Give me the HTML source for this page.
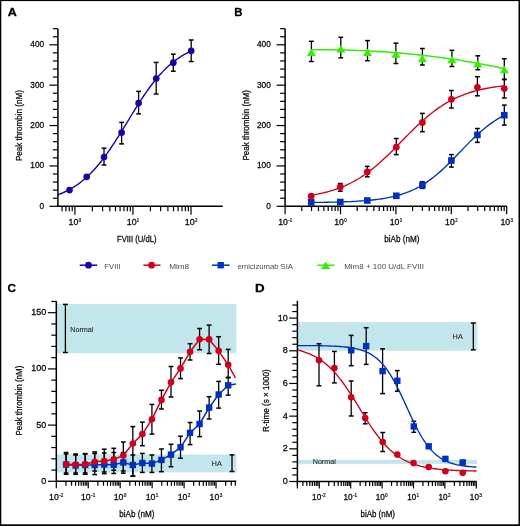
<!DOCTYPE html>
<html><head><meta charset="utf-8"><style>
html,body{margin:0;padding:0;background:#fff;}
svg{display:block;font-family:"Liberation Sans",sans-serif;will-change:transform;}
</style></head><body>
<svg width="520" height="526" viewBox="0 0 520 526">
<rect x="0" y="0" width="520" height="526" fill="#fff"/>
<line x1="104" y1="148.2" x2="104" y2="165" stroke="#000" stroke-width="1.3" stroke-linecap="butt"/>
<line x1="101.6" y1="148.2" x2="106.4" y2="148.2" stroke="#000" stroke-width="1.5" stroke-linecap="butt"/>
<line x1="101.6" y1="165" x2="106.4" y2="165" stroke="#000" stroke-width="1.5" stroke-linecap="butt"/>
<line x1="121.6" y1="122.4" x2="121.6" y2="143.9" stroke="#000" stroke-width="1.3" stroke-linecap="butt"/>
<line x1="119.2" y1="122.4" x2="124" y2="122.4" stroke="#000" stroke-width="1.5" stroke-linecap="butt"/>
<line x1="119.2" y1="143.9" x2="124" y2="143.9" stroke="#000" stroke-width="1.5" stroke-linecap="butt"/>
<line x1="138.6" y1="91.4" x2="138.6" y2="113.9" stroke="#000" stroke-width="1.3" stroke-linecap="butt"/>
<line x1="136.2" y1="91.4" x2="141" y2="91.4" stroke="#000" stroke-width="1.5" stroke-linecap="butt"/>
<line x1="136.2" y1="113.9" x2="141" y2="113.9" stroke="#000" stroke-width="1.5" stroke-linecap="butt"/>
<line x1="156.2" y1="62.4" x2="156.2" y2="94" stroke="#000" stroke-width="1.3" stroke-linecap="butt"/>
<line x1="153.8" y1="62.4" x2="158.6" y2="62.4" stroke="#000" stroke-width="1.5" stroke-linecap="butt"/>
<line x1="153.8" y1="94" x2="158.6" y2="94" stroke="#000" stroke-width="1.5" stroke-linecap="butt"/>
<line x1="173.3" y1="54.2" x2="173.3" y2="71.2" stroke="#000" stroke-width="1.3" stroke-linecap="butt"/>
<line x1="170.9" y1="54.2" x2="175.7" y2="54.2" stroke="#000" stroke-width="1.5" stroke-linecap="butt"/>
<line x1="170.9" y1="71.2" x2="175.7" y2="71.2" stroke="#000" stroke-width="1.5" stroke-linecap="butt"/>
<line x1="191.2" y1="40" x2="191.2" y2="61.5" stroke="#000" stroke-width="1.3" stroke-linecap="butt"/>
<line x1="188.8" y1="40" x2="193.6" y2="40" stroke="#000" stroke-width="1.5" stroke-linecap="butt"/>
<line x1="188.8" y1="61.5" x2="193.6" y2="61.5" stroke="#000" stroke-width="1.5" stroke-linecap="butt"/>
<path d="M57.9 194.81 L59.59 194.16 L61.27 193.48 L62.96 192.76 L64.65 191.99 L66.34 191.18 L68.02 190.33 L69.71 189.42 L71.4 188.47 L73.09 187.46 L74.77 186.39 L76.46 185.27 L78.15 184.1 L79.84 182.86 L81.52 181.56 L83.21 180.19 L84.9 178.76 L86.58 177.26 L88.27 175.69 L89.96 174.05 L91.65 172.35 L93.33 170.57 L95.02 168.72 L96.71 166.8 L98.4 164.81 L100.08 162.74 L101.77 160.61 L103.46 158.41 L105.15 156.15 L106.83 153.82 L108.52 151.43 L110.21 148.98 L111.89 146.48 L113.58 143.93 L115.27 141.33 L116.96 138.7 L118.64 136.02 L120.33 133.32 L122.02 130.58 L123.71 127.83 L125.39 125.07 L127.08 122.3 L128.77 119.53 L130.46 116.76 L132.14 114 L133.83 111.26 L135.52 108.55 L137.21 105.86 L138.89 103.21 L140.58 100.59 L142.27 98.02 L143.95 95.5 L145.64 93.03 L147.33 90.62 L149.02 88.27 L150.7 85.98 L152.39 83.76 L154.08 81.6 L155.77 79.51 L157.45 77.49 L159.14 75.54 L160.83 73.66 L162.52 71.86 L164.2 70.12 L165.89 68.46 L167.58 66.86 L169.26 65.34 L170.95 63.88 L172.64 62.49 L174.33 61.16 L176.01 59.9 L177.7 58.7 L179.39 57.56 L181.08 56.47 L182.76 55.44 L184.45 54.47 L186.14 53.54 L187.83 52.67 L189.51 51.84 L191.2 51.06" fill="none" stroke="#1e00a8" stroke-width="1.4" stroke-linejoin="round"/>
<circle cx="69.5" cy="190.1" r="3.35" fill="#1e00a8"/>
<circle cx="86.7" cy="176.8" r="3.35" fill="#1e00a8"/>
<circle cx="104" cy="157" r="3.35" fill="#1e00a8"/>
<circle cx="121.6" cy="132.6" r="3.35" fill="#1e00a8"/>
<circle cx="138.6" cy="103" r="3.35" fill="#1e00a8"/>
<circle cx="156.2" cy="78.5" r="3.35" fill="#1e00a8"/>
<circle cx="173.3" cy="62.7" r="3.35" fill="#1e00a8"/>
<circle cx="191.2" cy="50.8" r="3.35" fill="#1e00a8"/>
<line x1="57.9" y1="28.65" x2="57.9" y2="206.95" stroke="#000" stroke-width="1.5" stroke-linecap="butt"/>
<line x1="57.25" y1="206.3" x2="222.7" y2="206.3" stroke="#000" stroke-width="1.5" stroke-linecap="butt"/>
<line x1="49.4" y1="206.3" x2="57.9" y2="206.3" stroke="#000" stroke-width="1.2" stroke-linecap="butt"/>
<line x1="52.9" y1="198.23" x2="57.9" y2="198.23" stroke="#000" stroke-width="1.2" stroke-linecap="butt"/>
<line x1="52.9" y1="190.15" x2="57.9" y2="190.15" stroke="#000" stroke-width="1.2" stroke-linecap="butt"/>
<line x1="52.9" y1="182.08" x2="57.9" y2="182.08" stroke="#000" stroke-width="1.2" stroke-linecap="butt"/>
<line x1="52.9" y1="174" x2="57.9" y2="174" stroke="#000" stroke-width="1.2" stroke-linecap="butt"/>
<line x1="49.4" y1="165.93" x2="57.9" y2="165.93" stroke="#000" stroke-width="1.2" stroke-linecap="butt"/>
<line x1="52.9" y1="157.85" x2="57.9" y2="157.85" stroke="#000" stroke-width="1.2" stroke-linecap="butt"/>
<line x1="52.9" y1="149.78" x2="57.9" y2="149.78" stroke="#000" stroke-width="1.2" stroke-linecap="butt"/>
<line x1="52.9" y1="141.7" x2="57.9" y2="141.7" stroke="#000" stroke-width="1.2" stroke-linecap="butt"/>
<line x1="52.9" y1="133.62" x2="57.9" y2="133.62" stroke="#000" stroke-width="1.2" stroke-linecap="butt"/>
<line x1="49.4" y1="125.55" x2="57.9" y2="125.55" stroke="#000" stroke-width="1.2" stroke-linecap="butt"/>
<line x1="52.9" y1="117.48" x2="57.9" y2="117.48" stroke="#000" stroke-width="1.2" stroke-linecap="butt"/>
<line x1="52.9" y1="109.4" x2="57.9" y2="109.4" stroke="#000" stroke-width="1.2" stroke-linecap="butt"/>
<line x1="52.9" y1="101.33" x2="57.9" y2="101.33" stroke="#000" stroke-width="1.2" stroke-linecap="butt"/>
<line x1="52.9" y1="93.25" x2="57.9" y2="93.25" stroke="#000" stroke-width="1.2" stroke-linecap="butt"/>
<line x1="49.4" y1="85.18" x2="57.9" y2="85.18" stroke="#000" stroke-width="1.2" stroke-linecap="butt"/>
<line x1="52.9" y1="77.1" x2="57.9" y2="77.1" stroke="#000" stroke-width="1.2" stroke-linecap="butt"/>
<line x1="52.9" y1="69.03" x2="57.9" y2="69.03" stroke="#000" stroke-width="1.2" stroke-linecap="butt"/>
<line x1="52.9" y1="60.95" x2="57.9" y2="60.95" stroke="#000" stroke-width="1.2" stroke-linecap="butt"/>
<line x1="52.9" y1="52.88" x2="57.9" y2="52.88" stroke="#000" stroke-width="1.2" stroke-linecap="butt"/>
<line x1="49.4" y1="44.8" x2="57.9" y2="44.8" stroke="#000" stroke-width="1.2" stroke-linecap="butt"/>
<line x1="52.9" y1="36.73" x2="57.9" y2="36.73" stroke="#000" stroke-width="1.2" stroke-linecap="butt"/>
<line x1="52.9" y1="28.65" x2="57.9" y2="28.65" stroke="#000" stroke-width="1.2" stroke-linecap="butt"/>
<line x1="62.02" y1="206.3" x2="62.02" y2="211.3" stroke="#000" stroke-width="1.2" stroke-linecap="butt"/>
<line x1="65.91" y1="206.3" x2="65.91" y2="211.3" stroke="#000" stroke-width="1.2" stroke-linecap="butt"/>
<line x1="69.27" y1="206.3" x2="69.27" y2="211.3" stroke="#000" stroke-width="1.2" stroke-linecap="butt"/>
<line x1="72.24" y1="206.3" x2="72.24" y2="211.3" stroke="#000" stroke-width="1.2" stroke-linecap="butt"/>
<line x1="74.9" y1="206.3" x2="74.9" y2="214.8" stroke="#000" stroke-width="1.2" stroke-linecap="butt"/>
<line x1="92.37" y1="206.3" x2="92.37" y2="211.3" stroke="#000" stroke-width="1.2" stroke-linecap="butt"/>
<line x1="102.6" y1="206.3" x2="102.6" y2="211.3" stroke="#000" stroke-width="1.2" stroke-linecap="butt"/>
<line x1="109.85" y1="206.3" x2="109.85" y2="211.3" stroke="#000" stroke-width="1.2" stroke-linecap="butt"/>
<line x1="115.48" y1="206.3" x2="115.48" y2="211.3" stroke="#000" stroke-width="1.2" stroke-linecap="butt"/>
<line x1="120.07" y1="206.3" x2="120.07" y2="211.3" stroke="#000" stroke-width="1.2" stroke-linecap="butt"/>
<line x1="123.96" y1="206.3" x2="123.96" y2="211.3" stroke="#000" stroke-width="1.2" stroke-linecap="butt"/>
<line x1="127.32" y1="206.3" x2="127.32" y2="211.3" stroke="#000" stroke-width="1.2" stroke-linecap="butt"/>
<line x1="130.29" y1="206.3" x2="130.29" y2="211.3" stroke="#000" stroke-width="1.2" stroke-linecap="butt"/>
<line x1="132.95" y1="206.3" x2="132.95" y2="214.8" stroke="#000" stroke-width="1.2" stroke-linecap="butt"/>
<line x1="150.42" y1="206.3" x2="150.42" y2="211.3" stroke="#000" stroke-width="1.2" stroke-linecap="butt"/>
<line x1="160.65" y1="206.3" x2="160.65" y2="211.3" stroke="#000" stroke-width="1.2" stroke-linecap="butt"/>
<line x1="167.9" y1="206.3" x2="167.9" y2="211.3" stroke="#000" stroke-width="1.2" stroke-linecap="butt"/>
<line x1="173.53" y1="206.3" x2="173.53" y2="211.3" stroke="#000" stroke-width="1.2" stroke-linecap="butt"/>
<line x1="178.12" y1="206.3" x2="178.12" y2="211.3" stroke="#000" stroke-width="1.2" stroke-linecap="butt"/>
<line x1="182.01" y1="206.3" x2="182.01" y2="211.3" stroke="#000" stroke-width="1.2" stroke-linecap="butt"/>
<line x1="185.37" y1="206.3" x2="185.37" y2="211.3" stroke="#000" stroke-width="1.2" stroke-linecap="butt"/>
<line x1="188.34" y1="206.3" x2="188.34" y2="211.3" stroke="#000" stroke-width="1.2" stroke-linecap="butt"/>
<line x1="191" y1="206.3" x2="191" y2="214.8" stroke="#000" stroke-width="1.2" stroke-linecap="butt"/>
<text x="39.5" y="208.7" font-size="8.7" fill="#0a0a0a" stroke="#0a0a0a" stroke-width="0.28" textLength="4.6" lengthAdjust="spacingAndGlyphs">0</text>
<text x="30.33" y="168.33" font-size="8.7" fill="#0a0a0a" stroke="#0a0a0a" stroke-width="0.28" textLength="13.79" lengthAdjust="spacingAndGlyphs">100</text>
<text x="30.33" y="127.95" font-size="8.7" fill="#0a0a0a" stroke="#0a0a0a" stroke-width="0.28" textLength="13.79" lengthAdjust="spacingAndGlyphs">200</text>
<text x="30.33" y="87.58" font-size="8.7" fill="#0a0a0a" stroke="#0a0a0a" stroke-width="0.28" textLength="13.79" lengthAdjust="spacingAndGlyphs">300</text>
<text x="30.33" y="47.2" font-size="8.7" fill="#0a0a0a" stroke="#0a0a0a" stroke-width="0.28" textLength="13.79" lengthAdjust="spacingAndGlyphs">400</text>
<text x="68.61" y="224.6" font-size="8.86" fill="#0a0a0a" stroke="#0a0a0a" stroke-width="0.28" textLength="9.85" lengthAdjust="spacingAndGlyphs">10</text>
<text x="78.85" y="222.02" font-size="4.6" fill="#0a0a0a" stroke="#0a0a0a" stroke-width="0.2" textLength="2.43" lengthAdjust="spacingAndGlyphs">0</text>
<text x="126.76" y="224.6" font-size="8.86" fill="#0a0a0a" stroke="#0a0a0a" stroke-width="0.28" textLength="9.85" lengthAdjust="spacingAndGlyphs">10</text>
<text x="136.85" y="222.02" font-size="4.6" fill="#0a0a0a" stroke="#0a0a0a" stroke-width="0.2" textLength="2.43" lengthAdjust="spacingAndGlyphs">1</text>
<text x="184.76" y="224.6" font-size="8.86" fill="#0a0a0a" stroke="#0a0a0a" stroke-width="0.28" textLength="9.85" lengthAdjust="spacingAndGlyphs">10</text>
<text x="194.97" y="222.02" font-size="4.6" fill="#0a0a0a" stroke="#0a0a0a" stroke-width="0.2" textLength="2.43" lengthAdjust="spacingAndGlyphs">2</text>
<text transform="translate(21.5,161.05) rotate(-90)" x="0" y="0" font-size="9.6" fill="#0a0a0a" stroke="#0a0a0a" stroke-width="0.28" textLength="70.94" lengthAdjust="spacingAndGlyphs">Peak thrombin (nM)</text>
<text x="116.99" y="242.3" font-size="9.2" fill="#0a0a0a" stroke="#0a0a0a" stroke-width="0.28" textLength="39.49" lengthAdjust="spacingAndGlyphs">FVIII (U/dL)</text>
<text x="7.69" y="16" font-size="11.6" font-weight="bold" fill="#000" stroke="#000" stroke-width="0.28" textLength="9.05" lengthAdjust="spacingAndGlyphs">A</text>
<line x1="422.4" y1="181.8" x2="422.4" y2="188.4" stroke="#000" stroke-width="1.3" stroke-linecap="butt"/>
<line x1="420" y1="181.8" x2="424.8" y2="181.8" stroke="#000" stroke-width="1.5" stroke-linecap="butt"/>
<line x1="420" y1="188.4" x2="424.8" y2="188.4" stroke="#000" stroke-width="1.5" stroke-linecap="butt"/>
<line x1="451.4" y1="154.6" x2="451.4" y2="167.1" stroke="#000" stroke-width="1.3" stroke-linecap="butt"/>
<line x1="449" y1="154.6" x2="453.8" y2="154.6" stroke="#000" stroke-width="1.5" stroke-linecap="butt"/>
<line x1="449" y1="167.1" x2="453.8" y2="167.1" stroke="#000" stroke-width="1.5" stroke-linecap="butt"/>
<line x1="477.4" y1="128.5" x2="477.4" y2="142.4" stroke="#000" stroke-width="1.3" stroke-linecap="butt"/>
<line x1="475" y1="128.5" x2="479.8" y2="128.5" stroke="#000" stroke-width="1.5" stroke-linecap="butt"/>
<line x1="475" y1="142.4" x2="479.8" y2="142.4" stroke="#000" stroke-width="1.5" stroke-linecap="butt"/>
<line x1="504.3" y1="105.1" x2="504.3" y2="125.1" stroke="#000" stroke-width="1.3" stroke-linecap="butt"/>
<line x1="501.9" y1="105.1" x2="506.7" y2="105.1" stroke="#000" stroke-width="1.5" stroke-linecap="butt"/>
<line x1="501.9" y1="125.1" x2="506.7" y2="125.1" stroke="#000" stroke-width="1.5" stroke-linecap="butt"/>
<line x1="340.3" y1="183.5" x2="340.3" y2="191.3" stroke="#000" stroke-width="1.3" stroke-linecap="butt"/>
<line x1="337.9" y1="183.5" x2="342.7" y2="183.5" stroke="#000" stroke-width="1.5" stroke-linecap="butt"/>
<line x1="337.9" y1="191.3" x2="342.7" y2="191.3" stroke="#000" stroke-width="1.5" stroke-linecap="butt"/>
<line x1="367.3" y1="166.4" x2="367.3" y2="176.8" stroke="#000" stroke-width="1.3" stroke-linecap="butt"/>
<line x1="364.9" y1="166.4" x2="369.7" y2="166.4" stroke="#000" stroke-width="1.5" stroke-linecap="butt"/>
<line x1="364.9" y1="176.8" x2="369.7" y2="176.8" stroke="#000" stroke-width="1.5" stroke-linecap="butt"/>
<line x1="396.3" y1="138.5" x2="396.3" y2="154.6" stroke="#000" stroke-width="1.3" stroke-linecap="butt"/>
<line x1="393.9" y1="138.5" x2="398.7" y2="138.5" stroke="#000" stroke-width="1.5" stroke-linecap="butt"/>
<line x1="393.9" y1="154.6" x2="398.7" y2="154.6" stroke="#000" stroke-width="1.5" stroke-linecap="butt"/>
<line x1="422.4" y1="113.4" x2="422.4" y2="131.7" stroke="#000" stroke-width="1.3" stroke-linecap="butt"/>
<line x1="420" y1="113.4" x2="424.8" y2="113.4" stroke="#000" stroke-width="1.5" stroke-linecap="butt"/>
<line x1="420" y1="131.7" x2="424.8" y2="131.7" stroke="#000" stroke-width="1.5" stroke-linecap="butt"/>
<line x1="451.4" y1="90.5" x2="451.4" y2="108" stroke="#000" stroke-width="1.3" stroke-linecap="butt"/>
<line x1="449" y1="90.5" x2="453.8" y2="90.5" stroke="#000" stroke-width="1.5" stroke-linecap="butt"/>
<line x1="449" y1="108" x2="453.8" y2="108" stroke="#000" stroke-width="1.5" stroke-linecap="butt"/>
<line x1="477.4" y1="76.7" x2="477.4" y2="95.8" stroke="#000" stroke-width="1.3" stroke-linecap="butt"/>
<line x1="475" y1="76.7" x2="479.8" y2="76.7" stroke="#000" stroke-width="1.5" stroke-linecap="butt"/>
<line x1="475" y1="95.8" x2="479.8" y2="95.8" stroke="#000" stroke-width="1.5" stroke-linecap="butt"/>
<line x1="504.3" y1="79.3" x2="504.3" y2="98" stroke="#000" stroke-width="1.3" stroke-linecap="butt"/>
<line x1="501.9" y1="79.3" x2="506.7" y2="79.3" stroke="#000" stroke-width="1.5" stroke-linecap="butt"/>
<line x1="501.9" y1="98" x2="506.7" y2="98" stroke="#000" stroke-width="1.5" stroke-linecap="butt"/>
<line x1="311.4" y1="41.3" x2="311.4" y2="61.5" stroke="#000" stroke-width="1.3" stroke-linecap="butt"/>
<line x1="309" y1="41.3" x2="313.8" y2="41.3" stroke="#000" stroke-width="1.5" stroke-linecap="butt"/>
<line x1="309" y1="61.5" x2="313.8" y2="61.5" stroke="#000" stroke-width="1.5" stroke-linecap="butt"/>
<line x1="340.8" y1="37.3" x2="340.8" y2="57.8" stroke="#000" stroke-width="1.3" stroke-linecap="butt"/>
<line x1="338.4" y1="37.3" x2="343.2" y2="37.3" stroke="#000" stroke-width="1.5" stroke-linecap="butt"/>
<line x1="338.4" y1="57.8" x2="343.2" y2="57.8" stroke="#000" stroke-width="1.5" stroke-linecap="butt"/>
<line x1="367.5" y1="40.6" x2="367.5" y2="60.7" stroke="#000" stroke-width="1.3" stroke-linecap="butt"/>
<line x1="365.1" y1="40.6" x2="369.9" y2="40.6" stroke="#000" stroke-width="1.5" stroke-linecap="butt"/>
<line x1="365.1" y1="60.7" x2="369.9" y2="60.7" stroke="#000" stroke-width="1.5" stroke-linecap="butt"/>
<line x1="395.9" y1="43.2" x2="395.9" y2="63.5" stroke="#000" stroke-width="1.3" stroke-linecap="butt"/>
<line x1="393.5" y1="43.2" x2="398.3" y2="43.2" stroke="#000" stroke-width="1.5" stroke-linecap="butt"/>
<line x1="393.5" y1="63.5" x2="398.3" y2="63.5" stroke="#000" stroke-width="1.5" stroke-linecap="butt"/>
<line x1="422.4" y1="48.5" x2="422.4" y2="65" stroke="#000" stroke-width="1.3" stroke-linecap="butt"/>
<line x1="420" y1="48.5" x2="424.8" y2="48.5" stroke="#000" stroke-width="1.5" stroke-linecap="butt"/>
<line x1="420" y1="65" x2="424.8" y2="65" stroke="#000" stroke-width="1.5" stroke-linecap="butt"/>
<line x1="451.9" y1="50.3" x2="451.9" y2="66.5" stroke="#000" stroke-width="1.3" stroke-linecap="butt"/>
<line x1="449.5" y1="50.3" x2="454.3" y2="50.3" stroke="#000" stroke-width="1.5" stroke-linecap="butt"/>
<line x1="449.5" y1="66.5" x2="454.3" y2="66.5" stroke="#000" stroke-width="1.5" stroke-linecap="butt"/>
<line x1="477.8" y1="55.8" x2="477.8" y2="69.7" stroke="#000" stroke-width="1.3" stroke-linecap="butt"/>
<line x1="475.4" y1="55.8" x2="480.2" y2="55.8" stroke="#000" stroke-width="1.5" stroke-linecap="butt"/>
<line x1="475.4" y1="69.7" x2="480.2" y2="69.7" stroke="#000" stroke-width="1.5" stroke-linecap="butt"/>
<line x1="504.3" y1="58.8" x2="504.3" y2="79.6" stroke="#000" stroke-width="1.3" stroke-linecap="butt"/>
<line x1="501.9" y1="58.8" x2="506.7" y2="58.8" stroke="#000" stroke-width="1.5" stroke-linecap="butt"/>
<line x1="501.9" y1="79.6" x2="506.7" y2="79.6" stroke="#000" stroke-width="1.5" stroke-linecap="butt"/>
<path d="M311.2 202.44 L313.64 202.42 L316.09 202.39 L318.53 202.37 L320.98 202.33 L323.42 202.3 L325.87 202.26 L328.31 202.22 L330.75 202.17 L333.2 202.12 L335.64 202.06 L338.09 202 L340.53 201.93 L342.98 201.85 L345.42 201.77 L347.86 201.67 L350.31 201.57 L352.75 201.46 L355.2 201.33 L357.64 201.19 L360.09 201.04 L362.53 200.87 L364.97 200.68 L367.42 200.48 L369.86 200.25 L372.31 200 L374.75 199.73 L377.2 199.43 L379.64 199.1 L382.08 198.73 L384.53 198.33 L386.97 197.9 L389.42 197.42 L391.86 196.89 L394.31 196.32 L396.75 195.7 L399.19 195.02 L401.64 194.27 L404.08 193.46 L406.53 192.59 L408.97 191.64 L411.42 190.61 L413.86 189.5 L416.31 188.3 L418.75 187.02 L421.19 185.64 L423.64 184.16 L426.08 182.59 L428.53 180.92 L430.97 179.15 L433.42 177.29 L435.86 175.32 L438.3 173.27 L440.75 171.12 L443.19 168.9 L445.64 166.59 L448.08 164.22 L450.53 161.79 L452.97 159.31 L455.41 156.79 L457.86 154.25 L460.3 151.7 L462.75 149.15 L465.19 146.62 L467.64 144.1 L470.08 141.63 L472.52 139.21 L474.97 136.85 L477.41 134.56 L479.86 132.34 L482.3 130.21 L484.75 128.17 L487.19 126.22 L489.63 124.37 L492.08 122.62 L494.52 120.97 L496.97 119.41 L499.41 117.95 L501.86 116.59 L504.3 115.32" fill="none" stroke="#0030c0" stroke-width="1.35" stroke-linejoin="round"/>
<path d="M311.2 195.22 L313.64 194.81 L316.09 194.37 L318.53 193.9 L320.98 193.38 L323.42 192.83 L325.87 192.23 L328.31 191.59 L330.75 190.89 L333.2 190.15 L335.64 189.35 L338.09 188.5 L340.53 187.58 L342.98 186.6 L345.42 185.55 L347.86 184.43 L350.31 183.24 L352.75 181.98 L355.2 180.64 L357.64 179.22 L360.09 177.72 L362.53 176.13 L364.97 174.47 L367.42 172.72 L369.86 170.9 L372.31 168.99 L374.75 167 L377.2 164.94 L379.64 162.81 L382.08 160.61 L384.53 158.34 L386.97 156.02 L389.42 153.65 L391.86 151.24 L394.31 148.79 L396.75 146.31 L399.19 143.82 L401.64 141.32 L404.08 138.81 L406.53 136.32 L408.97 133.85 L411.42 131.4 L413.86 128.98 L416.31 126.61 L418.75 124.29 L421.19 122.03 L423.64 119.83 L426.08 117.69 L428.53 115.63 L430.97 113.65 L433.42 111.74 L435.86 109.91 L438.3 108.16 L440.75 106.5 L443.19 104.92 L445.64 103.42 L448.08 102 L450.53 100.66 L452.97 99.39 L455.41 98.2 L457.86 97.08 L460.3 96.04 L462.75 95.06 L465.19 94.14 L467.64 93.28 L470.08 92.48 L472.52 91.74 L474.97 91.05 L477.41 90.4 L479.86 89.81 L482.3 89.25 L484.75 88.74 L487.19 88.26 L489.63 87.82 L492.08 87.41 L494.52 87.04 L496.97 86.69 L499.41 86.36 L501.86 86.07 L504.3 85.79" fill="none" stroke="#d0001c" stroke-width="1.35" stroke-linejoin="round"/>
<path d="M311.4 49.68 L314.67 49.67 L317.94 49.67 L321.21 49.68 L324.48 49.7 L327.75 49.73 L331.02 49.77 L334.29 49.82 L337.56 49.88 L340.83 49.95 L344.09 50.03 L347.36 50.12 L350.63 50.22 L353.9 50.33 L357.17 50.46 L360.44 50.59 L363.71 50.74 L366.98 50.89 L370.25 51.06 L373.52 51.24 L376.79 51.43 L380.06 51.63 L383.33 51.84 L386.6 52.06 L389.87 52.3 L393.14 52.55 L396.41 52.81 L399.68 53.08 L402.95 53.36 L406.22 53.66 L409.48 53.97 L412.75 54.29 L416.02 54.62 L419.29 54.96 L422.56 55.32 L425.83 55.69 L429.1 56.07 L432.37 56.47 L435.64 56.88 L438.91 57.3 L442.18 57.74 L445.45 58.19 L448.72 58.65 L451.99 59.12 L455.26 59.61 L458.53 60.11 L461.8 60.63 L465.07 61.16 L468.34 61.7 L471.61 62.26 L474.87 62.83 L478.14 63.41 L481.41 64.01 L484.68 64.63 L487.95 65.26 L491.22 65.9 L494.49 66.56 L497.76 67.23 L501.03 67.92 L504.3 68.62" fill="none" stroke="#33ee00" stroke-width="1.5" stroke-linejoin="round"/>
<rect x="307.9" y="199" width="6.6" height="6.6" fill="#0030c0"/>
<rect x="337" y="198.7" width="6.6" height="6.6" fill="#0030c0"/>
<rect x="364" y="197.2" width="6.6" height="6.6" fill="#0030c0"/>
<rect x="393" y="192.5" width="6.6" height="6.6" fill="#0030c0"/>
<rect x="419.1" y="181.9" width="6.6" height="6.6" fill="#0030c0"/>
<rect x="448.1" y="157.2" width="6.6" height="6.6" fill="#0030c0"/>
<rect x="474.1" y="131.6" width="6.6" height="6.6" fill="#0030c0"/>
<rect x="501" y="111.9" width="6.6" height="6.6" fill="#0030c0"/>
<circle cx="311.2" cy="196.2" r="3.35" fill="#d0001c"/>
<circle cx="340.3" cy="186.9" r="3.35" fill="#d0001c"/>
<circle cx="367.3" cy="171.9" r="3.35" fill="#d0001c"/>
<circle cx="396.3" cy="147.2" r="3.35" fill="#d0001c"/>
<circle cx="422.4" cy="122.4" r="3.35" fill="#d0001c"/>
<circle cx="451.4" cy="99.3" r="3.35" fill="#d0001c"/>
<circle cx="477.4" cy="87.3" r="3.35" fill="#d0001c"/>
<circle cx="504.3" cy="88.6" r="3.35" fill="#d0001c"/>
<path d="M311.4 48.45L315.9 55.95L306.9 55.95Z" fill="#33ee00"/>
<path d="M340.8 45.05L345.3 52.55L336.3 52.55Z" fill="#33ee00"/>
<path d="M367.5 48.45L372 55.95L363 55.95Z" fill="#33ee00"/>
<path d="M395.9 50.35L400.4 57.85L391.4 57.85Z" fill="#33ee00"/>
<path d="M422.4 54.75L426.9 62.25L417.9 62.25Z" fill="#33ee00"/>
<path d="M451.9 55.85L456.4 63.35L447.4 63.35Z" fill="#33ee00"/>
<path d="M477.8 60.05L482.3 67.55L473.3 67.55Z" fill="#33ee00"/>
<path d="M504.3 65.75L508.8 73.25L499.8 73.25Z" fill="#33ee00"/>
<line x1="285.1" y1="28.65" x2="285.1" y2="206.95" stroke="#000" stroke-width="1.5" stroke-linecap="butt"/>
<line x1="284.45" y1="206.3" x2="506.75" y2="206.3" stroke="#000" stroke-width="1.5" stroke-linecap="butt"/>
<line x1="276.6" y1="206.3" x2="285.1" y2="206.3" stroke="#000" stroke-width="1.2" stroke-linecap="butt"/>
<line x1="280.1" y1="198.23" x2="285.1" y2="198.23" stroke="#000" stroke-width="1.2" stroke-linecap="butt"/>
<line x1="280.1" y1="190.15" x2="285.1" y2="190.15" stroke="#000" stroke-width="1.2" stroke-linecap="butt"/>
<line x1="280.1" y1="182.08" x2="285.1" y2="182.08" stroke="#000" stroke-width="1.2" stroke-linecap="butt"/>
<line x1="280.1" y1="174" x2="285.1" y2="174" stroke="#000" stroke-width="1.2" stroke-linecap="butt"/>
<line x1="276.6" y1="165.93" x2="285.1" y2="165.93" stroke="#000" stroke-width="1.2" stroke-linecap="butt"/>
<line x1="280.1" y1="157.85" x2="285.1" y2="157.85" stroke="#000" stroke-width="1.2" stroke-linecap="butt"/>
<line x1="280.1" y1="149.78" x2="285.1" y2="149.78" stroke="#000" stroke-width="1.2" stroke-linecap="butt"/>
<line x1="280.1" y1="141.7" x2="285.1" y2="141.7" stroke="#000" stroke-width="1.2" stroke-linecap="butt"/>
<line x1="280.1" y1="133.62" x2="285.1" y2="133.62" stroke="#000" stroke-width="1.2" stroke-linecap="butt"/>
<line x1="276.6" y1="125.55" x2="285.1" y2="125.55" stroke="#000" stroke-width="1.2" stroke-linecap="butt"/>
<line x1="280.1" y1="117.48" x2="285.1" y2="117.48" stroke="#000" stroke-width="1.2" stroke-linecap="butt"/>
<line x1="280.1" y1="109.4" x2="285.1" y2="109.4" stroke="#000" stroke-width="1.2" stroke-linecap="butt"/>
<line x1="280.1" y1="101.33" x2="285.1" y2="101.33" stroke="#000" stroke-width="1.2" stroke-linecap="butt"/>
<line x1="280.1" y1="93.25" x2="285.1" y2="93.25" stroke="#000" stroke-width="1.2" stroke-linecap="butt"/>
<line x1="276.6" y1="85.18" x2="285.1" y2="85.18" stroke="#000" stroke-width="1.2" stroke-linecap="butt"/>
<line x1="280.1" y1="77.1" x2="285.1" y2="77.1" stroke="#000" stroke-width="1.2" stroke-linecap="butt"/>
<line x1="280.1" y1="69.03" x2="285.1" y2="69.03" stroke="#000" stroke-width="1.2" stroke-linecap="butt"/>
<line x1="280.1" y1="60.95" x2="285.1" y2="60.95" stroke="#000" stroke-width="1.2" stroke-linecap="butt"/>
<line x1="280.1" y1="52.88" x2="285.1" y2="52.88" stroke="#000" stroke-width="1.2" stroke-linecap="butt"/>
<line x1="276.6" y1="44.8" x2="285.1" y2="44.8" stroke="#000" stroke-width="1.2" stroke-linecap="butt"/>
<line x1="280.1" y1="36.73" x2="285.1" y2="36.73" stroke="#000" stroke-width="1.2" stroke-linecap="butt"/>
<line x1="280.1" y1="28.65" x2="285.1" y2="28.65" stroke="#000" stroke-width="1.2" stroke-linecap="butt"/>
<line x1="285.1" y1="206.3" x2="285.1" y2="214.3" stroke="#000" stroke-width="1.2" stroke-linecap="butt"/>
<line x1="301.78" y1="206.3" x2="301.78" y2="211.1" stroke="#000" stroke-width="1.2" stroke-linecap="butt"/>
<line x1="311.53" y1="206.3" x2="311.53" y2="211.1" stroke="#000" stroke-width="1.2" stroke-linecap="butt"/>
<line x1="318.45" y1="206.3" x2="318.45" y2="211.1" stroke="#000" stroke-width="1.2" stroke-linecap="butt"/>
<line x1="323.82" y1="206.3" x2="323.82" y2="211.1" stroke="#000" stroke-width="1.2" stroke-linecap="butt"/>
<line x1="328.21" y1="206.3" x2="328.21" y2="211.1" stroke="#000" stroke-width="1.2" stroke-linecap="butt"/>
<line x1="331.92" y1="206.3" x2="331.92" y2="211.1" stroke="#000" stroke-width="1.2" stroke-linecap="butt"/>
<line x1="335.13" y1="206.3" x2="335.13" y2="211.1" stroke="#000" stroke-width="1.2" stroke-linecap="butt"/>
<line x1="337.97" y1="206.3" x2="337.97" y2="211.1" stroke="#000" stroke-width="1.2" stroke-linecap="butt"/>
<line x1="340.5" y1="206.3" x2="340.5" y2="214.3" stroke="#000" stroke-width="1.2" stroke-linecap="butt"/>
<line x1="357.18" y1="206.3" x2="357.18" y2="211.1" stroke="#000" stroke-width="1.2" stroke-linecap="butt"/>
<line x1="366.93" y1="206.3" x2="366.93" y2="211.1" stroke="#000" stroke-width="1.2" stroke-linecap="butt"/>
<line x1="373.85" y1="206.3" x2="373.85" y2="211.1" stroke="#000" stroke-width="1.2" stroke-linecap="butt"/>
<line x1="379.22" y1="206.3" x2="379.22" y2="211.1" stroke="#000" stroke-width="1.2" stroke-linecap="butt"/>
<line x1="383.61" y1="206.3" x2="383.61" y2="211.1" stroke="#000" stroke-width="1.2" stroke-linecap="butt"/>
<line x1="387.32" y1="206.3" x2="387.32" y2="211.1" stroke="#000" stroke-width="1.2" stroke-linecap="butt"/>
<line x1="390.53" y1="206.3" x2="390.53" y2="211.1" stroke="#000" stroke-width="1.2" stroke-linecap="butt"/>
<line x1="393.37" y1="206.3" x2="393.37" y2="211.1" stroke="#000" stroke-width="1.2" stroke-linecap="butt"/>
<line x1="395.9" y1="206.3" x2="395.9" y2="214.3" stroke="#000" stroke-width="1.2" stroke-linecap="butt"/>
<line x1="412.58" y1="206.3" x2="412.58" y2="211.1" stroke="#000" stroke-width="1.2" stroke-linecap="butt"/>
<line x1="422.33" y1="206.3" x2="422.33" y2="211.1" stroke="#000" stroke-width="1.2" stroke-linecap="butt"/>
<line x1="429.25" y1="206.3" x2="429.25" y2="211.1" stroke="#000" stroke-width="1.2" stroke-linecap="butt"/>
<line x1="434.62" y1="206.3" x2="434.62" y2="211.1" stroke="#000" stroke-width="1.2" stroke-linecap="butt"/>
<line x1="439.01" y1="206.3" x2="439.01" y2="211.1" stroke="#000" stroke-width="1.2" stroke-linecap="butt"/>
<line x1="442.72" y1="206.3" x2="442.72" y2="211.1" stroke="#000" stroke-width="1.2" stroke-linecap="butt"/>
<line x1="445.93" y1="206.3" x2="445.93" y2="211.1" stroke="#000" stroke-width="1.2" stroke-linecap="butt"/>
<line x1="448.77" y1="206.3" x2="448.77" y2="211.1" stroke="#000" stroke-width="1.2" stroke-linecap="butt"/>
<line x1="451.3" y1="206.3" x2="451.3" y2="214.3" stroke="#000" stroke-width="1.2" stroke-linecap="butt"/>
<line x1="467.98" y1="206.3" x2="467.98" y2="211.1" stroke="#000" stroke-width="1.2" stroke-linecap="butt"/>
<line x1="477.73" y1="206.3" x2="477.73" y2="211.1" stroke="#000" stroke-width="1.2" stroke-linecap="butt"/>
<line x1="484.65" y1="206.3" x2="484.65" y2="211.1" stroke="#000" stroke-width="1.2" stroke-linecap="butt"/>
<line x1="490.02" y1="206.3" x2="490.02" y2="211.1" stroke="#000" stroke-width="1.2" stroke-linecap="butt"/>
<line x1="494.41" y1="206.3" x2="494.41" y2="211.1" stroke="#000" stroke-width="1.2" stroke-linecap="butt"/>
<line x1="498.12" y1="206.3" x2="498.12" y2="211.1" stroke="#000" stroke-width="1.2" stroke-linecap="butt"/>
<line x1="501.33" y1="206.3" x2="501.33" y2="211.1" stroke="#000" stroke-width="1.2" stroke-linecap="butt"/>
<line x1="504.17" y1="206.3" x2="504.17" y2="211.1" stroke="#000" stroke-width="1.2" stroke-linecap="butt"/>
<line x1="506.7" y1="206.3" x2="506.7" y2="214.3" stroke="#000" stroke-width="1.2" stroke-linecap="butt"/>
<text x="266.2" y="208.7" font-size="8.7" fill="#0a0a0a" stroke="#0a0a0a" stroke-width="0.28" textLength="4.6" lengthAdjust="spacingAndGlyphs">0</text>
<text x="257.03" y="168.33" font-size="8.7" fill="#0a0a0a" stroke="#0a0a0a" stroke-width="0.28" textLength="13.79" lengthAdjust="spacingAndGlyphs">100</text>
<text x="257.03" y="127.95" font-size="8.7" fill="#0a0a0a" stroke="#0a0a0a" stroke-width="0.28" textLength="13.79" lengthAdjust="spacingAndGlyphs">200</text>
<text x="257.03" y="87.58" font-size="8.7" fill="#0a0a0a" stroke="#0a0a0a" stroke-width="0.28" textLength="13.79" lengthAdjust="spacingAndGlyphs">300</text>
<text x="257.03" y="47.2" font-size="8.7" fill="#0a0a0a" stroke="#0a0a0a" stroke-width="0.28" textLength="13.79" lengthAdjust="spacingAndGlyphs">400</text>
<text x="278.15" y="224.8" font-size="8.71" fill="#0a0a0a" stroke="#0a0a0a" stroke-width="0.28" textLength="9.69" lengthAdjust="spacingAndGlyphs">10</text>
<text x="288.22" y="221.99" font-size="4.7" fill="#0a0a0a" stroke="#0a0a0a" stroke-width="0.2" textLength="3.97" lengthAdjust="spacingAndGlyphs">-1</text>
<text x="334.27" y="224.8" font-size="8.71" fill="#0a0a0a" stroke="#0a0a0a" stroke-width="0.28" textLength="9.69" lengthAdjust="spacingAndGlyphs">10</text>
<text x="344.36" y="221.99" font-size="4.7" fill="#0a0a0a" stroke="#0a0a0a" stroke-width="0.2" textLength="2.48" lengthAdjust="spacingAndGlyphs">0</text>
<text x="389.77" y="224.8" font-size="8.71" fill="#0a0a0a" stroke="#0a0a0a" stroke-width="0.28" textLength="9.69" lengthAdjust="spacingAndGlyphs">10</text>
<text x="399.7" y="221.99" font-size="4.7" fill="#0a0a0a" stroke="#0a0a0a" stroke-width="0.2" textLength="2.48" lengthAdjust="spacingAndGlyphs">1</text>
<text x="445.12" y="224.8" font-size="8.71" fill="#0a0a0a" stroke="#0a0a0a" stroke-width="0.28" textLength="9.69" lengthAdjust="spacingAndGlyphs">10</text>
<text x="455.17" y="221.99" font-size="4.7" fill="#0a0a0a" stroke="#0a0a0a" stroke-width="0.2" textLength="2.48" lengthAdjust="spacingAndGlyphs">2</text>
<text x="500.48" y="224.8" font-size="8.71" fill="#0a0a0a" stroke="#0a0a0a" stroke-width="0.28" textLength="9.69" lengthAdjust="spacingAndGlyphs">10</text>
<text x="510.57" y="221.99" font-size="4.7" fill="#0a0a0a" stroke="#0a0a0a" stroke-width="0.2" textLength="2.48" lengthAdjust="spacingAndGlyphs">3</text>
<text transform="translate(248.5,160.54) rotate(-90)" x="0" y="0" font-size="9.6" fill="#0a0a0a" stroke="#0a0a0a" stroke-width="0.28" textLength="70.53" lengthAdjust="spacingAndGlyphs">Peak thrombin (nM)</text>
<text x="384.27" y="242.3" font-size="9.2" fill="#0a0a0a" stroke="#0a0a0a" stroke-width="0.28" textLength="35.25" lengthAdjust="spacingAndGlyphs">biAb (nM)</text>
<text x="234.26" y="16.2" font-size="11.6" font-weight="bold" fill="#000" stroke="#000" stroke-width="0.28" textLength="8.17" lengthAdjust="spacingAndGlyphs">B</text>
<line x1="79.7" y1="265.2" x2="97.2" y2="265.2" stroke="#1e00a8" stroke-width="1.5" stroke-linecap="butt"/>
<circle cx="88.5" cy="265.2" r="3.4" fill="#1e00a8"/>
<text x="104.39" y="268.5" font-size="7.6" fill="#4a4a4a" stroke="#4a4a4a" stroke-width="0" textLength="16.22" lengthAdjust="spacingAndGlyphs">FVIII</text>
<line x1="143.4" y1="265.2" x2="160.5" y2="265.2" stroke="#d0001c" stroke-width="1.5" stroke-linecap="butt"/>
<circle cx="151.6" cy="265.2" r="3.4" fill="#d0001c"/>
<text x="169.15" y="268.5" font-size="7.6" fill="#4a4a4a" stroke="#4a4a4a" stroke-width="0" textLength="19.98" lengthAdjust="spacingAndGlyphs">Mim8</text>
<line x1="211.9" y1="265.2" x2="229.7" y2="265.2" stroke="#0030c0" stroke-width="1.5" stroke-linecap="butt"/>
<rect x="217.5" y="262" width="6.4" height="6.4" fill="#0030c0"/>
<text x="237.59" y="268.5" font-size="7.6" fill="#4a4a4a" stroke="#4a4a4a" stroke-width="0" textLength="55.41" lengthAdjust="spacingAndGlyphs">emicizumab SIA</text>
<line x1="317.3" y1="265.2" x2="334.6" y2="265.2" stroke="#33ee00" stroke-width="1.5" stroke-linecap="butt"/>
<path d="M325.6 261.45L330.1 268.95L321.1 268.95Z" fill="#33ee00"/>
<text x="344.16" y="268.5" font-size="7.6" fill="#4a4a4a" stroke="#4a4a4a" stroke-width="0" textLength="79.8" lengthAdjust="spacingAndGlyphs">Mim8 + 100 U/dL FVIII</text>
<rect x="56.9" y="303.9" width="179.5" height="49.3" fill="#c2e6ec"/>
<rect x="56.9" y="454.4" width="179.5" height="18" fill="#c2e6ec"/>
<line x1="65.4" y1="304.4" x2="65.4" y2="352.5" stroke="#000" stroke-width="1.3" stroke-linecap="butt"/>
<line x1="63" y1="304.4" x2="67.8" y2="304.4" stroke="#000" stroke-width="1.5" stroke-linecap="butt"/>
<line x1="63" y1="352.5" x2="67.8" y2="352.5" stroke="#000" stroke-width="1.5" stroke-linecap="butt"/>
<text x="70.33" y="332" font-size="7.2" fill="#2a2a2a" stroke="#2a2a2a" stroke-width="0.1" textLength="23.06" lengthAdjust="spacingAndGlyphs">Normal</text>
<line x1="232" y1="454.9" x2="232" y2="471.5" stroke="#000" stroke-width="1.3" stroke-linecap="butt"/>
<line x1="229.6" y1="454.9" x2="234.4" y2="454.9" stroke="#000" stroke-width="1.5" stroke-linecap="butt"/>
<line x1="229.6" y1="471.5" x2="234.4" y2="471.5" stroke="#000" stroke-width="1.5" stroke-linecap="butt"/>
<text x="211.61" y="466" font-size="7" fill="#2a2a2a" stroke="#2a2a2a" stroke-width="0.1" textLength="10.33" lengthAdjust="spacingAndGlyphs">HA</text>
<line x1="66.1" y1="454" x2="66.1" y2="473" stroke="#000" stroke-width="1.3" stroke-linecap="butt"/>
<line x1="63.7" y1="454" x2="68.5" y2="454" stroke="#000" stroke-width="1.5" stroke-linecap="butt"/>
<line x1="63.7" y1="473" x2="68.5" y2="473" stroke="#000" stroke-width="1.5" stroke-linecap="butt"/>
<line x1="75.63" y1="454" x2="75.63" y2="473" stroke="#000" stroke-width="1.3" stroke-linecap="butt"/>
<line x1="73.23" y1="454" x2="78.03" y2="454" stroke="#000" stroke-width="1.5" stroke-linecap="butt"/>
<line x1="73.23" y1="473" x2="78.03" y2="473" stroke="#000" stroke-width="1.5" stroke-linecap="butt"/>
<line x1="85.17" y1="454" x2="85.17" y2="473" stroke="#000" stroke-width="1.3" stroke-linecap="butt"/>
<line x1="82.77" y1="454" x2="87.57" y2="454" stroke="#000" stroke-width="1.5" stroke-linecap="butt"/>
<line x1="82.77" y1="473" x2="87.57" y2="473" stroke="#000" stroke-width="1.5" stroke-linecap="butt"/>
<line x1="94.7" y1="453.5" x2="94.7" y2="471" stroke="#000" stroke-width="1.3" stroke-linecap="butt"/>
<line x1="92.3" y1="453.5" x2="97.11" y2="453.5" stroke="#000" stroke-width="1.5" stroke-linecap="butt"/>
<line x1="92.3" y1="471" x2="97.11" y2="471" stroke="#000" stroke-width="1.5" stroke-linecap="butt"/>
<line x1="104.24" y1="453" x2="104.24" y2="472" stroke="#000" stroke-width="1.3" stroke-linecap="butt"/>
<line x1="101.84" y1="453" x2="106.64" y2="453" stroke="#000" stroke-width="1.5" stroke-linecap="butt"/>
<line x1="101.84" y1="472" x2="106.64" y2="472" stroke="#000" stroke-width="1.5" stroke-linecap="butt"/>
<line x1="113.77" y1="452.5" x2="113.77" y2="470.2" stroke="#000" stroke-width="1.3" stroke-linecap="butt"/>
<line x1="111.37" y1="452.5" x2="116.17" y2="452.5" stroke="#000" stroke-width="1.5" stroke-linecap="butt"/>
<line x1="111.37" y1="470.2" x2="116.17" y2="470.2" stroke="#000" stroke-width="1.5" stroke-linecap="butt"/>
<line x1="123.31" y1="452.6" x2="123.31" y2="471" stroke="#000" stroke-width="1.3" stroke-linecap="butt"/>
<line x1="120.91" y1="452.6" x2="125.71" y2="452.6" stroke="#000" stroke-width="1.5" stroke-linecap="butt"/>
<line x1="120.91" y1="471" x2="125.71" y2="471" stroke="#000" stroke-width="1.5" stroke-linecap="butt"/>
<line x1="132.84" y1="455" x2="132.84" y2="476" stroke="#000" stroke-width="1.3" stroke-linecap="butt"/>
<line x1="130.44" y1="455" x2="135.25" y2="455" stroke="#000" stroke-width="1.5" stroke-linecap="butt"/>
<line x1="130.44" y1="476" x2="135.25" y2="476" stroke="#000" stroke-width="1.5" stroke-linecap="butt"/>
<line x1="142.38" y1="453.4" x2="142.38" y2="472.4" stroke="#000" stroke-width="1.3" stroke-linecap="butt"/>
<line x1="139.98" y1="453.4" x2="144.78" y2="453.4" stroke="#000" stroke-width="1.5" stroke-linecap="butt"/>
<line x1="139.98" y1="472.4" x2="144.78" y2="472.4" stroke="#000" stroke-width="1.5" stroke-linecap="butt"/>
<line x1="151.91" y1="455" x2="151.91" y2="472.4" stroke="#000" stroke-width="1.3" stroke-linecap="butt"/>
<line x1="149.51" y1="455" x2="154.31" y2="455" stroke="#000" stroke-width="1.5" stroke-linecap="butt"/>
<line x1="149.51" y1="472.4" x2="154.31" y2="472.4" stroke="#000" stroke-width="1.5" stroke-linecap="butt"/>
<line x1="161.45" y1="449" x2="161.45" y2="471.7" stroke="#000" stroke-width="1.3" stroke-linecap="butt"/>
<line x1="159.05" y1="449" x2="163.85" y2="449" stroke="#000" stroke-width="1.5" stroke-linecap="butt"/>
<line x1="159.05" y1="471.7" x2="163.85" y2="471.7" stroke="#000" stroke-width="1.5" stroke-linecap="butt"/>
<line x1="170.99" y1="444.3" x2="170.99" y2="466.7" stroke="#000" stroke-width="1.3" stroke-linecap="butt"/>
<line x1="168.59" y1="444.3" x2="173.39" y2="444.3" stroke="#000" stroke-width="1.5" stroke-linecap="butt"/>
<line x1="168.59" y1="466.7" x2="173.39" y2="466.7" stroke="#000" stroke-width="1.5" stroke-linecap="butt"/>
<line x1="180.52" y1="436.2" x2="180.52" y2="458.2" stroke="#000" stroke-width="1.3" stroke-linecap="butt"/>
<line x1="178.12" y1="436.2" x2="182.92" y2="436.2" stroke="#000" stroke-width="1.5" stroke-linecap="butt"/>
<line x1="178.12" y1="458.2" x2="182.92" y2="458.2" stroke="#000" stroke-width="1.5" stroke-linecap="butt"/>
<line x1="190.06" y1="422.5" x2="190.06" y2="444.6" stroke="#000" stroke-width="1.3" stroke-linecap="butt"/>
<line x1="187.66" y1="422.5" x2="192.46" y2="422.5" stroke="#000" stroke-width="1.5" stroke-linecap="butt"/>
<line x1="187.66" y1="444.6" x2="192.46" y2="444.6" stroke="#000" stroke-width="1.5" stroke-linecap="butt"/>
<line x1="199.59" y1="411" x2="199.59" y2="436.6" stroke="#000" stroke-width="1.3" stroke-linecap="butt"/>
<line x1="197.19" y1="411" x2="201.99" y2="411" stroke="#000" stroke-width="1.5" stroke-linecap="butt"/>
<line x1="197.19" y1="436.6" x2="201.99" y2="436.6" stroke="#000" stroke-width="1.5" stroke-linecap="butt"/>
<line x1="209.12" y1="396.7" x2="209.12" y2="419" stroke="#000" stroke-width="1.3" stroke-linecap="butt"/>
<line x1="206.72" y1="396.7" x2="211.53" y2="396.7" stroke="#000" stroke-width="1.5" stroke-linecap="butt"/>
<line x1="206.72" y1="419" x2="211.53" y2="419" stroke="#000" stroke-width="1.5" stroke-linecap="butt"/>
<line x1="218.66" y1="381.4" x2="218.66" y2="408.1" stroke="#000" stroke-width="1.3" stroke-linecap="butt"/>
<line x1="216.26" y1="381.4" x2="221.06" y2="381.4" stroke="#000" stroke-width="1.5" stroke-linecap="butt"/>
<line x1="216.26" y1="408.1" x2="221.06" y2="408.1" stroke="#000" stroke-width="1.5" stroke-linecap="butt"/>
<line x1="228.19" y1="377.3" x2="228.19" y2="395.1" stroke="#000" stroke-width="1.3" stroke-linecap="butt"/>
<line x1="225.79" y1="377.3" x2="230.59" y2="377.3" stroke="#000" stroke-width="1.5" stroke-linecap="butt"/>
<line x1="225.79" y1="395.1" x2="230.59" y2="395.1" stroke="#000" stroke-width="1.5" stroke-linecap="butt"/>
<line x1="66.1" y1="452.5" x2="66.1" y2="474.3" stroke="#000" stroke-width="1.3" stroke-linecap="butt"/>
<line x1="63.7" y1="452.5" x2="68.5" y2="452.5" stroke="#000" stroke-width="1.5" stroke-linecap="butt"/>
<line x1="63.7" y1="474.3" x2="68.5" y2="474.3" stroke="#000" stroke-width="1.5" stroke-linecap="butt"/>
<line x1="75.63" y1="455" x2="75.63" y2="474.3" stroke="#000" stroke-width="1.3" stroke-linecap="butt"/>
<line x1="73.23" y1="455" x2="78.03" y2="455" stroke="#000" stroke-width="1.5" stroke-linecap="butt"/>
<line x1="73.23" y1="474.3" x2="78.03" y2="474.3" stroke="#000" stroke-width="1.5" stroke-linecap="butt"/>
<line x1="85.17" y1="453.6" x2="85.17" y2="474.3" stroke="#000" stroke-width="1.3" stroke-linecap="butt"/>
<line x1="82.77" y1="453.6" x2="87.57" y2="453.6" stroke="#000" stroke-width="1.5" stroke-linecap="butt"/>
<line x1="82.77" y1="474.3" x2="87.57" y2="474.3" stroke="#000" stroke-width="1.5" stroke-linecap="butt"/>
<line x1="94.7" y1="451.9" x2="94.7" y2="474.6" stroke="#000" stroke-width="1.3" stroke-linecap="butt"/>
<line x1="92.3" y1="451.9" x2="97.11" y2="451.9" stroke="#000" stroke-width="1.5" stroke-linecap="butt"/>
<line x1="92.3" y1="474.6" x2="97.11" y2="474.6" stroke="#000" stroke-width="1.5" stroke-linecap="butt"/>
<line x1="104.24" y1="449.2" x2="104.24" y2="473.7" stroke="#000" stroke-width="1.3" stroke-linecap="butt"/>
<line x1="101.84" y1="449.2" x2="106.64" y2="449.2" stroke="#000" stroke-width="1.5" stroke-linecap="butt"/>
<line x1="101.84" y1="473.7" x2="106.64" y2="473.7" stroke="#000" stroke-width="1.5" stroke-linecap="butt"/>
<line x1="113.77" y1="448.3" x2="113.77" y2="473.5" stroke="#000" stroke-width="1.3" stroke-linecap="butt"/>
<line x1="111.37" y1="448.3" x2="116.17" y2="448.3" stroke="#000" stroke-width="1.5" stroke-linecap="butt"/>
<line x1="111.37" y1="473.5" x2="116.17" y2="473.5" stroke="#000" stroke-width="1.5" stroke-linecap="butt"/>
<line x1="123.31" y1="442" x2="123.31" y2="473.2" stroke="#000" stroke-width="1.3" stroke-linecap="butt"/>
<line x1="120.91" y1="442" x2="125.71" y2="442" stroke="#000" stroke-width="1.5" stroke-linecap="butt"/>
<line x1="120.91" y1="473.2" x2="125.71" y2="473.2" stroke="#000" stroke-width="1.5" stroke-linecap="butt"/>
<line x1="132.84" y1="426.6" x2="132.84" y2="476.2" stroke="#000" stroke-width="1.3" stroke-linecap="butt"/>
<line x1="130.44" y1="426.6" x2="135.25" y2="426.6" stroke="#000" stroke-width="1.5" stroke-linecap="butt"/>
<line x1="130.44" y1="476.2" x2="135.25" y2="476.2" stroke="#000" stroke-width="1.5" stroke-linecap="butt"/>
<line x1="142.38" y1="422.1" x2="142.38" y2="445.7" stroke="#000" stroke-width="1.3" stroke-linecap="butt"/>
<line x1="139.98" y1="422.1" x2="144.78" y2="422.1" stroke="#000" stroke-width="1.5" stroke-linecap="butt"/>
<line x1="139.98" y1="445.7" x2="144.78" y2="445.7" stroke="#000" stroke-width="1.5" stroke-linecap="butt"/>
<line x1="151.91" y1="404.4" x2="151.91" y2="434.1" stroke="#000" stroke-width="1.3" stroke-linecap="butt"/>
<line x1="149.51" y1="404.4" x2="154.31" y2="404.4" stroke="#000" stroke-width="1.5" stroke-linecap="butt"/>
<line x1="149.51" y1="434.1" x2="154.31" y2="434.1" stroke="#000" stroke-width="1.5" stroke-linecap="butt"/>
<line x1="161.45" y1="390.3" x2="161.45" y2="409" stroke="#000" stroke-width="1.3" stroke-linecap="butt"/>
<line x1="159.05" y1="390.3" x2="163.85" y2="390.3" stroke="#000" stroke-width="1.5" stroke-linecap="butt"/>
<line x1="159.05" y1="409" x2="163.85" y2="409" stroke="#000" stroke-width="1.5" stroke-linecap="butt"/>
<line x1="170.99" y1="366.5" x2="170.99" y2="397" stroke="#000" stroke-width="1.3" stroke-linecap="butt"/>
<line x1="168.59" y1="366.5" x2="173.39" y2="366.5" stroke="#000" stroke-width="1.5" stroke-linecap="butt"/>
<line x1="168.59" y1="397" x2="173.39" y2="397" stroke="#000" stroke-width="1.5" stroke-linecap="butt"/>
<line x1="180.52" y1="357.9" x2="180.52" y2="378.6" stroke="#000" stroke-width="1.3" stroke-linecap="butt"/>
<line x1="178.12" y1="357.9" x2="182.92" y2="357.9" stroke="#000" stroke-width="1.5" stroke-linecap="butt"/>
<line x1="178.12" y1="378.6" x2="182.92" y2="378.6" stroke="#000" stroke-width="1.5" stroke-linecap="butt"/>
<line x1="190.06" y1="343.7" x2="190.06" y2="360" stroke="#000" stroke-width="1.3" stroke-linecap="butt"/>
<line x1="187.66" y1="343.7" x2="192.46" y2="343.7" stroke="#000" stroke-width="1.5" stroke-linecap="butt"/>
<line x1="187.66" y1="360" x2="192.46" y2="360" stroke="#000" stroke-width="1.5" stroke-linecap="butt"/>
<line x1="199.59" y1="328.5" x2="199.59" y2="349.7" stroke="#000" stroke-width="1.3" stroke-linecap="butt"/>
<line x1="197.19" y1="328.5" x2="201.99" y2="328.5" stroke="#000" stroke-width="1.5" stroke-linecap="butt"/>
<line x1="197.19" y1="349.7" x2="201.99" y2="349.7" stroke="#000" stroke-width="1.5" stroke-linecap="butt"/>
<line x1="209.12" y1="325.1" x2="209.12" y2="353.5" stroke="#000" stroke-width="1.3" stroke-linecap="butt"/>
<line x1="206.72" y1="325.1" x2="211.53" y2="325.1" stroke="#000" stroke-width="1.5" stroke-linecap="butt"/>
<line x1="206.72" y1="353.5" x2="211.53" y2="353.5" stroke="#000" stroke-width="1.5" stroke-linecap="butt"/>
<line x1="218.66" y1="336.7" x2="218.66" y2="364.3" stroke="#000" stroke-width="1.3" stroke-linecap="butt"/>
<line x1="216.26" y1="336.7" x2="221.06" y2="336.7" stroke="#000" stroke-width="1.5" stroke-linecap="butt"/>
<line x1="216.26" y1="364.3" x2="221.06" y2="364.3" stroke="#000" stroke-width="1.5" stroke-linecap="butt"/>
<line x1="228.19" y1="349.4" x2="228.19" y2="377.8" stroke="#000" stroke-width="1.3" stroke-linecap="butt"/>
<line x1="225.79" y1="349.4" x2="230.59" y2="349.4" stroke="#000" stroke-width="1.5" stroke-linecap="butt"/>
<line x1="225.79" y1="377.8" x2="230.59" y2="377.8" stroke="#000" stroke-width="1.5" stroke-linecap="butt"/>
<path d="M66.1 464.5 L75.63 465.5 L85.17 465 L94.7 465 L104.24 464.5 L113.77 464.8 L123.31 462.5 L132.84 465 L142.38 463 L151.91 463.6 L161.45 459.9 L170.99 454.6 L180.52 447.3 L190.06 432.8 L199.59 424 L209.12 407.6 L218.66 394.5 L228.19 385.3 L236 384" fill="none" stroke="#0030c0" stroke-width="1.5" stroke-linejoin="round"/>
<rect x="62.9" y="461.3" width="6.4" height="6.4" fill="#0030c0"/>
<rect x="72.43" y="462.3" width="6.4" height="6.4" fill="#0030c0"/>
<rect x="81.97" y="461.8" width="6.4" height="6.4" fill="#0030c0"/>
<rect x="91.5" y="461.8" width="6.4" height="6.4" fill="#0030c0"/>
<rect x="101.04" y="461.3" width="6.4" height="6.4" fill="#0030c0"/>
<rect x="110.57" y="461.6" width="6.4" height="6.4" fill="#0030c0"/>
<rect x="120.11" y="459.3" width="6.4" height="6.4" fill="#0030c0"/>
<rect x="129.65" y="461.8" width="6.4" height="6.4" fill="#0030c0"/>
<rect x="139.18" y="459.8" width="6.4" height="6.4" fill="#0030c0"/>
<rect x="148.72" y="460.4" width="6.4" height="6.4" fill="#0030c0"/>
<rect x="158.25" y="456.7" width="6.4" height="6.4" fill="#0030c0"/>
<rect x="167.79" y="451.4" width="6.4" height="6.4" fill="#0030c0"/>
<rect x="177.32" y="444.1" width="6.4" height="6.4" fill="#0030c0"/>
<rect x="186.86" y="429.6" width="6.4" height="6.4" fill="#0030c0"/>
<rect x="196.39" y="420.8" width="6.4" height="6.4" fill="#0030c0"/>
<rect x="205.93" y="404.4" width="6.4" height="6.4" fill="#0030c0"/>
<rect x="215.46" y="391.3" width="6.4" height="6.4" fill="#0030c0"/>
<rect x="225" y="382.1" width="6.4" height="6.4" fill="#0030c0"/>
<path d="M66.1 464.2 L75.63 464.5 L85.17 464.2 L94.7 461.7 L104.24 461.1 L113.77 459.4 L123.31 455.5 L132.84 443.5 L142.38 434.1 L151.91 419.3 L161.45 399.9 L170.99 382.3 L180.52 368.4 L190.06 351.8 L199.59 339.3 L209.12 339.4 L218.66 350.8 L228.19 364.8 L235.5 378" fill="none" stroke="#d0001c" stroke-width="1.5" stroke-linejoin="round"/>
<circle cx="66.1" cy="464.2" r="3.3" fill="#d0001c"/>
<circle cx="75.63" cy="464.5" r="3.3" fill="#d0001c"/>
<circle cx="85.17" cy="464.2" r="3.3" fill="#d0001c"/>
<circle cx="94.7" cy="461.7" r="3.3" fill="#d0001c"/>
<circle cx="104.24" cy="461.1" r="3.3" fill="#d0001c"/>
<circle cx="113.77" cy="459.4" r="3.3" fill="#d0001c"/>
<circle cx="123.31" cy="455.5" r="3.3" fill="#d0001c"/>
<circle cx="132.84" cy="443.5" r="3.3" fill="#d0001c"/>
<circle cx="142.38" cy="434.1" r="3.3" fill="#d0001c"/>
<circle cx="151.91" cy="419.3" r="3.3" fill="#d0001c"/>
<circle cx="161.45" cy="399.9" r="3.3" fill="#d0001c"/>
<circle cx="170.99" cy="382.3" r="3.3" fill="#d0001c"/>
<circle cx="180.52" cy="368.4" r="3.3" fill="#d0001c"/>
<circle cx="190.06" cy="351.8" r="3.3" fill="#d0001c"/>
<circle cx="199.59" cy="339.3" r="3.3" fill="#d0001c"/>
<circle cx="209.12" cy="339.4" r="3.3" fill="#d0001c"/>
<circle cx="218.66" cy="350.8" r="3.3" fill="#d0001c"/>
<circle cx="228.19" cy="364.8" r="3.3" fill="#d0001c"/>
<line x1="56.3" y1="301.1" x2="56.3" y2="481.95" stroke="#000" stroke-width="1.5" stroke-linecap="butt"/>
<line x1="55.65" y1="481.3" x2="236.3" y2="481.3" stroke="#000" stroke-width="1.5" stroke-linecap="butt"/>
<line x1="47.9" y1="481.3" x2="56.3" y2="481.3" stroke="#000" stroke-width="1.2" stroke-linecap="butt"/>
<line x1="51.3" y1="470.06" x2="56.3" y2="470.06" stroke="#000" stroke-width="1.2" stroke-linecap="butt"/>
<line x1="51.3" y1="458.82" x2="56.3" y2="458.82" stroke="#000" stroke-width="1.2" stroke-linecap="butt"/>
<line x1="51.3" y1="447.58" x2="56.3" y2="447.58" stroke="#000" stroke-width="1.2" stroke-linecap="butt"/>
<line x1="51.3" y1="436.34" x2="56.3" y2="436.34" stroke="#000" stroke-width="1.2" stroke-linecap="butt"/>
<line x1="47.9" y1="425.1" x2="56.3" y2="425.1" stroke="#000" stroke-width="1.2" stroke-linecap="butt"/>
<line x1="51.3" y1="413.86" x2="56.3" y2="413.86" stroke="#000" stroke-width="1.2" stroke-linecap="butt"/>
<line x1="51.3" y1="402.62" x2="56.3" y2="402.62" stroke="#000" stroke-width="1.2" stroke-linecap="butt"/>
<line x1="51.3" y1="391.38" x2="56.3" y2="391.38" stroke="#000" stroke-width="1.2" stroke-linecap="butt"/>
<line x1="51.3" y1="380.14" x2="56.3" y2="380.14" stroke="#000" stroke-width="1.2" stroke-linecap="butt"/>
<line x1="47.9" y1="368.9" x2="56.3" y2="368.9" stroke="#000" stroke-width="1.2" stroke-linecap="butt"/>
<line x1="51.3" y1="357.66" x2="56.3" y2="357.66" stroke="#000" stroke-width="1.2" stroke-linecap="butt"/>
<line x1="51.3" y1="346.42" x2="56.3" y2="346.42" stroke="#000" stroke-width="1.2" stroke-linecap="butt"/>
<line x1="51.3" y1="335.18" x2="56.3" y2="335.18" stroke="#000" stroke-width="1.2" stroke-linecap="butt"/>
<line x1="51.3" y1="323.94" x2="56.3" y2="323.94" stroke="#000" stroke-width="1.2" stroke-linecap="butt"/>
<line x1="47.9" y1="312.7" x2="56.3" y2="312.7" stroke="#000" stroke-width="1.2" stroke-linecap="butt"/>
<line x1="51.3" y1="301.46" x2="56.3" y2="301.46" stroke="#000" stroke-width="1.2" stroke-linecap="butt"/>
<line x1="56.3" y1="481.3" x2="56.3" y2="488.3" stroke="#000" stroke-width="1.2" stroke-linecap="butt"/>
<line x1="65.92" y1="481.3" x2="65.92" y2="485.7" stroke="#000" stroke-width="1.2" stroke-linecap="butt"/>
<line x1="71.54" y1="481.3" x2="71.54" y2="485.7" stroke="#000" stroke-width="1.2" stroke-linecap="butt"/>
<line x1="75.54" y1="481.3" x2="75.54" y2="485.7" stroke="#000" stroke-width="1.2" stroke-linecap="butt"/>
<line x1="78.63" y1="481.3" x2="78.63" y2="485.7" stroke="#000" stroke-width="1.2" stroke-linecap="butt"/>
<line x1="81.16" y1="481.3" x2="81.16" y2="485.7" stroke="#000" stroke-width="1.2" stroke-linecap="butt"/>
<line x1="83.3" y1="481.3" x2="83.3" y2="485.7" stroke="#000" stroke-width="1.2" stroke-linecap="butt"/>
<line x1="85.15" y1="481.3" x2="85.15" y2="485.7" stroke="#000" stroke-width="1.2" stroke-linecap="butt"/>
<line x1="86.79" y1="481.3" x2="86.79" y2="485.7" stroke="#000" stroke-width="1.2" stroke-linecap="butt"/>
<line x1="88.25" y1="481.3" x2="88.25" y2="488.3" stroke="#000" stroke-width="1.2" stroke-linecap="butt"/>
<line x1="97.87" y1="481.3" x2="97.87" y2="485.7" stroke="#000" stroke-width="1.2" stroke-linecap="butt"/>
<line x1="103.49" y1="481.3" x2="103.49" y2="485.7" stroke="#000" stroke-width="1.2" stroke-linecap="butt"/>
<line x1="107.49" y1="481.3" x2="107.49" y2="485.7" stroke="#000" stroke-width="1.2" stroke-linecap="butt"/>
<line x1="110.58" y1="481.3" x2="110.58" y2="485.7" stroke="#000" stroke-width="1.2" stroke-linecap="butt"/>
<line x1="113.11" y1="481.3" x2="113.11" y2="485.7" stroke="#000" stroke-width="1.2" stroke-linecap="butt"/>
<line x1="115.25" y1="481.3" x2="115.25" y2="485.7" stroke="#000" stroke-width="1.2" stroke-linecap="butt"/>
<line x1="117.1" y1="481.3" x2="117.1" y2="485.7" stroke="#000" stroke-width="1.2" stroke-linecap="butt"/>
<line x1="118.74" y1="481.3" x2="118.74" y2="485.7" stroke="#000" stroke-width="1.2" stroke-linecap="butt"/>
<line x1="120.2" y1="481.3" x2="120.2" y2="488.3" stroke="#000" stroke-width="1.2" stroke-linecap="butt"/>
<line x1="129.82" y1="481.3" x2="129.82" y2="485.7" stroke="#000" stroke-width="1.2" stroke-linecap="butt"/>
<line x1="135.44" y1="481.3" x2="135.44" y2="485.7" stroke="#000" stroke-width="1.2" stroke-linecap="butt"/>
<line x1="139.44" y1="481.3" x2="139.44" y2="485.7" stroke="#000" stroke-width="1.2" stroke-linecap="butt"/>
<line x1="142.53" y1="481.3" x2="142.53" y2="485.7" stroke="#000" stroke-width="1.2" stroke-linecap="butt"/>
<line x1="145.06" y1="481.3" x2="145.06" y2="485.7" stroke="#000" stroke-width="1.2" stroke-linecap="butt"/>
<line x1="147.2" y1="481.3" x2="147.2" y2="485.7" stroke="#000" stroke-width="1.2" stroke-linecap="butt"/>
<line x1="149.05" y1="481.3" x2="149.05" y2="485.7" stroke="#000" stroke-width="1.2" stroke-linecap="butt"/>
<line x1="150.69" y1="481.3" x2="150.69" y2="485.7" stroke="#000" stroke-width="1.2" stroke-linecap="butt"/>
<line x1="152.15" y1="481.3" x2="152.15" y2="488.3" stroke="#000" stroke-width="1.2" stroke-linecap="butt"/>
<line x1="161.77" y1="481.3" x2="161.77" y2="485.7" stroke="#000" stroke-width="1.2" stroke-linecap="butt"/>
<line x1="167.39" y1="481.3" x2="167.39" y2="485.7" stroke="#000" stroke-width="1.2" stroke-linecap="butt"/>
<line x1="171.39" y1="481.3" x2="171.39" y2="485.7" stroke="#000" stroke-width="1.2" stroke-linecap="butt"/>
<line x1="174.48" y1="481.3" x2="174.48" y2="485.7" stroke="#000" stroke-width="1.2" stroke-linecap="butt"/>
<line x1="177.01" y1="481.3" x2="177.01" y2="485.7" stroke="#000" stroke-width="1.2" stroke-linecap="butt"/>
<line x1="179.15" y1="481.3" x2="179.15" y2="485.7" stroke="#000" stroke-width="1.2" stroke-linecap="butt"/>
<line x1="181" y1="481.3" x2="181" y2="485.7" stroke="#000" stroke-width="1.2" stroke-linecap="butt"/>
<line x1="182.64" y1="481.3" x2="182.64" y2="485.7" stroke="#000" stroke-width="1.2" stroke-linecap="butt"/>
<line x1="184.1" y1="481.3" x2="184.1" y2="488.3" stroke="#000" stroke-width="1.2" stroke-linecap="butt"/>
<line x1="193.72" y1="481.3" x2="193.72" y2="485.7" stroke="#000" stroke-width="1.2" stroke-linecap="butt"/>
<line x1="199.34" y1="481.3" x2="199.34" y2="485.7" stroke="#000" stroke-width="1.2" stroke-linecap="butt"/>
<line x1="203.34" y1="481.3" x2="203.34" y2="485.7" stroke="#000" stroke-width="1.2" stroke-linecap="butt"/>
<line x1="206.43" y1="481.3" x2="206.43" y2="485.7" stroke="#000" stroke-width="1.2" stroke-linecap="butt"/>
<line x1="208.96" y1="481.3" x2="208.96" y2="485.7" stroke="#000" stroke-width="1.2" stroke-linecap="butt"/>
<line x1="211.1" y1="481.3" x2="211.1" y2="485.7" stroke="#000" stroke-width="1.2" stroke-linecap="butt"/>
<line x1="212.95" y1="481.3" x2="212.95" y2="485.7" stroke="#000" stroke-width="1.2" stroke-linecap="butt"/>
<line x1="214.59" y1="481.3" x2="214.59" y2="485.7" stroke="#000" stroke-width="1.2" stroke-linecap="butt"/>
<line x1="216.05" y1="481.3" x2="216.05" y2="488.3" stroke="#000" stroke-width="1.2" stroke-linecap="butt"/>
<line x1="225.67" y1="481.3" x2="225.67" y2="485.7" stroke="#000" stroke-width="1.2" stroke-linecap="butt"/>
<line x1="231.29" y1="481.3" x2="231.29" y2="485.7" stroke="#000" stroke-width="1.2" stroke-linecap="butt"/>
<line x1="235.29" y1="481.3" x2="235.29" y2="485.7" stroke="#000" stroke-width="1.2" stroke-linecap="butt"/>
<text x="41.32" y="483.8" font-size="9" fill="#0a0a0a" stroke="#0a0a0a" stroke-width="0.28" textLength="5.01" lengthAdjust="spacingAndGlyphs">0</text>
<text x="36.33" y="427.6" font-size="9" fill="#0a0a0a" stroke="#0a0a0a" stroke-width="0.28" textLength="10.01" lengthAdjust="spacingAndGlyphs">50</text>
<text x="31.33" y="371.4" font-size="9" fill="#0a0a0a" stroke="#0a0a0a" stroke-width="0.28" textLength="15.02" lengthAdjust="spacingAndGlyphs">100</text>
<text x="31.33" y="315.2" font-size="9" fill="#0a0a0a" stroke="#0a0a0a" stroke-width="0.28" textLength="15.02" lengthAdjust="spacingAndGlyphs">150</text>
<text x="49.09" y="499.9" font-size="8.71" fill="#0a0a0a" stroke="#0a0a0a" stroke-width="0.28" textLength="9.69" lengthAdjust="spacingAndGlyphs">10</text>
<text x="59.15" y="496.83" font-size="4.9" fill="#0a0a0a" stroke="#0a0a0a" stroke-width="0.2" textLength="4.14" lengthAdjust="spacingAndGlyphs">-2</text>
<text x="81.03" y="499.9" font-size="8.71" fill="#0a0a0a" stroke="#0a0a0a" stroke-width="0.28" textLength="9.69" lengthAdjust="spacingAndGlyphs">10</text>
<text x="91.09" y="496.83" font-size="4.9" fill="#0a0a0a" stroke="#0a0a0a" stroke-width="0.2" textLength="4.14" lengthAdjust="spacingAndGlyphs">-1</text>
<text x="113.72" y="499.9" font-size="8.71" fill="#0a0a0a" stroke="#0a0a0a" stroke-width="0.28" textLength="9.69" lengthAdjust="spacingAndGlyphs">10</text>
<text x="123.8" y="496.83" font-size="4.9" fill="#0a0a0a" stroke="#0a0a0a" stroke-width="0.2" textLength="2.59" lengthAdjust="spacingAndGlyphs">0</text>
<text x="145.78" y="499.9" font-size="8.71" fill="#0a0a0a" stroke="#0a0a0a" stroke-width="0.28" textLength="9.69" lengthAdjust="spacingAndGlyphs">10</text>
<text x="155.7" y="496.83" font-size="4.9" fill="#0a0a0a" stroke="#0a0a0a" stroke-width="0.2" textLength="2.59" lengthAdjust="spacingAndGlyphs">1</text>
<text x="177.68" y="499.9" font-size="8.71" fill="#0a0a0a" stroke="#0a0a0a" stroke-width="0.28" textLength="9.69" lengthAdjust="spacingAndGlyphs">10</text>
<text x="187.72" y="496.83" font-size="4.9" fill="#0a0a0a" stroke="#0a0a0a" stroke-width="0.2" textLength="2.59" lengthAdjust="spacingAndGlyphs">2</text>
<text x="209.58" y="499.9" font-size="8.71" fill="#0a0a0a" stroke="#0a0a0a" stroke-width="0.28" textLength="9.69" lengthAdjust="spacingAndGlyphs">10</text>
<text x="219.67" y="496.83" font-size="4.9" fill="#0a0a0a" stroke="#0a0a0a" stroke-width="0.2" textLength="2.59" lengthAdjust="spacingAndGlyphs">3</text>
<text transform="translate(21.8,435.44) rotate(-90)" x="0" y="0" font-size="9.6" fill="#0a0a0a" stroke="#0a0a0a" stroke-width="0.28" textLength="69.72" lengthAdjust="spacingAndGlyphs">Peak thrombin (nM)</text>
<text x="119.27" y="517.1" font-size="9.2" fill="#0a0a0a" stroke="#0a0a0a" stroke-width="0.28" textLength="35.25" lengthAdjust="spacingAndGlyphs">biAb (nM)</text>
<text x="7.63" y="292" font-size="11.6" font-weight="bold" fill="#000" stroke="#000" stroke-width="0.28" textLength="8.49" lengthAdjust="spacingAndGlyphs">C</text>
<rect x="298" y="322.1" width="179.3" height="28.6" fill="#c2e6ec"/>
<rect x="298" y="459.9" width="179" height="4" fill="#c2e6ec"/>
<line x1="473.3" y1="323" x2="473.3" y2="349.8" stroke="#000" stroke-width="1.3" stroke-linecap="butt"/>
<line x1="470.9" y1="323" x2="475.7" y2="323" stroke="#000" stroke-width="1.5" stroke-linecap="butt"/>
<line x1="470.9" y1="349.8" x2="475.7" y2="349.8" stroke="#000" stroke-width="1.5" stroke-linecap="butt"/>
<text x="452.61" y="339.4" font-size="7" fill="#2a2a2a" stroke="#2a2a2a" stroke-width="0.1" textLength="10.22" lengthAdjust="spacingAndGlyphs">HA</text>
<text x="312.73" y="463.8" font-size="7.2" fill="#2a2a2a" stroke="#2a2a2a" stroke-width="0.1" textLength="23.06" lengthAdjust="spacingAndGlyphs">Normal</text>
<line x1="319" y1="343.8" x2="319" y2="385.8" stroke="#000" stroke-width="1.3" stroke-linecap="butt"/>
<line x1="316.6" y1="343.8" x2="321.4" y2="343.8" stroke="#000" stroke-width="1.5" stroke-linecap="butt"/>
<line x1="316.6" y1="385.8" x2="321.4" y2="385.8" stroke="#000" stroke-width="1.5" stroke-linecap="butt"/>
<line x1="334.4" y1="351.5" x2="334.4" y2="382.9" stroke="#000" stroke-width="1.3" stroke-linecap="butt"/>
<line x1="332" y1="351.5" x2="336.8" y2="351.5" stroke="#000" stroke-width="1.5" stroke-linecap="butt"/>
<line x1="332" y1="382.9" x2="336.8" y2="382.9" stroke="#000" stroke-width="1.5" stroke-linecap="butt"/>
<line x1="351.2" y1="381" x2="351.2" y2="416" stroke="#000" stroke-width="1.3" stroke-linecap="butt"/>
<line x1="348.8" y1="381" x2="353.6" y2="381" stroke="#000" stroke-width="1.5" stroke-linecap="butt"/>
<line x1="348.8" y1="416" x2="353.6" y2="416" stroke="#000" stroke-width="1.5" stroke-linecap="butt"/>
<line x1="365.2" y1="412.7" x2="365.2" y2="423.8" stroke="#000" stroke-width="1.3" stroke-linecap="butt"/>
<line x1="362.8" y1="412.7" x2="367.6" y2="412.7" stroke="#000" stroke-width="1.5" stroke-linecap="butt"/>
<line x1="362.8" y1="423.8" x2="367.6" y2="423.8" stroke="#000" stroke-width="1.5" stroke-linecap="butt"/>
<line x1="382.7" y1="432.5" x2="382.7" y2="451.5" stroke="#000" stroke-width="1.3" stroke-linecap="butt"/>
<line x1="380.3" y1="432.5" x2="385.1" y2="432.5" stroke="#000" stroke-width="1.5" stroke-linecap="butt"/>
<line x1="380.3" y1="451.5" x2="385.1" y2="451.5" stroke="#000" stroke-width="1.5" stroke-linecap="butt"/>
<line x1="351.2" y1="335.4" x2="351.2" y2="365.7" stroke="#000" stroke-width="1.3" stroke-linecap="butt"/>
<line x1="348.8" y1="335.4" x2="353.6" y2="335.4" stroke="#000" stroke-width="1.5" stroke-linecap="butt"/>
<line x1="348.8" y1="365.7" x2="353.6" y2="365.7" stroke="#000" stroke-width="1.5" stroke-linecap="butt"/>
<line x1="366.2" y1="327.7" x2="366.2" y2="364.4" stroke="#000" stroke-width="1.3" stroke-linecap="butt"/>
<line x1="363.8" y1="327.7" x2="368.6" y2="327.7" stroke="#000" stroke-width="1.5" stroke-linecap="butt"/>
<line x1="363.8" y1="364.4" x2="368.6" y2="364.4" stroke="#000" stroke-width="1.5" stroke-linecap="butt"/>
<line x1="382.6" y1="348.8" x2="382.6" y2="393.6" stroke="#000" stroke-width="1.3" stroke-linecap="butt"/>
<line x1="380.2" y1="348.8" x2="385" y2="348.8" stroke="#000" stroke-width="1.5" stroke-linecap="butt"/>
<line x1="380.2" y1="393.6" x2="385" y2="393.6" stroke="#000" stroke-width="1.5" stroke-linecap="butt"/>
<line x1="397.3" y1="370.6" x2="397.3" y2="391.2" stroke="#000" stroke-width="1.3" stroke-linecap="butt"/>
<line x1="394.9" y1="370.6" x2="399.7" y2="370.6" stroke="#000" stroke-width="1.5" stroke-linecap="butt"/>
<line x1="394.9" y1="391.2" x2="399.7" y2="391.2" stroke="#000" stroke-width="1.5" stroke-linecap="butt"/>
<line x1="413.8" y1="421.3" x2="413.8" y2="432.3" stroke="#000" stroke-width="1.3" stroke-linecap="butt"/>
<line x1="411.4" y1="421.3" x2="416.2" y2="421.3" stroke="#000" stroke-width="1.5" stroke-linecap="butt"/>
<line x1="411.4" y1="432.3" x2="416.2" y2="432.3" stroke="#000" stroke-width="1.5" stroke-linecap="butt"/>
<path d="M297.4 345.54 L299.41 345.55 L301.42 345.55 L303.44 345.56 L305.45 345.58 L307.46 345.59 L309.47 345.6 L311.49 345.62 L313.5 345.64 L315.51 345.67 L317.52 345.7 L319.54 345.73 L321.55 345.76 L323.56 345.81 L325.57 345.86 L327.59 345.91 L329.6 345.98 L331.61 346.05 L333.62 346.14 L335.63 346.24 L337.65 346.36 L339.66 346.49 L341.67 346.65 L343.68 346.82 L345.7 347.03 L347.71 347.26 L349.72 347.53 L351.73 347.85 L353.75 348.2 L355.76 348.61 L357.77 349.09 L359.78 349.62 L361.8 350.24 L363.81 350.95 L365.82 351.75 L367.83 352.66 L369.84 353.7 L371.86 354.88 L373.87 356.21 L375.88 357.71 L377.89 359.39 L379.91 361.27 L381.92 363.36 L383.93 365.67 L385.94 368.22 L387.96 371.01 L389.97 374.05 L391.98 377.33 L393.99 380.84 L396.01 384.58 L398.02 388.51 L400.03 392.62 L402.04 396.86 L404.06 401.2 L406.07 405.6 L408.08 410.02 L410.09 414.39 L412.1 418.69 L414.12 422.87 L416.13 426.9 L418.14 430.73 L420.15 434.36 L422.17 437.76 L424.18 440.91 L426.19 443.83 L428.2 446.5 L430.22 448.93 L432.23 451.13 L434.24 453.11 L436.25 454.89 L438.27 456.48 L440.28 457.89 L442.29 459.14 L444.3 460.25 L446.31 461.22 L448.33 462.08 L450.34 462.83 L452.35 463.49 L454.36 464.07 L456.38 464.57 L458.39 465.01 L460.4 465.39 L462.41 465.73 L464.43 466.02 L466.44 466.27 L468.45 466.49 L470.46 466.68 L472.48 466.85 L474.49 466.99 L476.5 467.11" fill="none" stroke="#0030c0" stroke-width="1.35" stroke-linejoin="round"/>
<path d="M297.4 349.93 L299.41 350.44 L301.42 351.01 L303.44 351.63 L305.45 352.31 L307.46 353.05 L309.47 353.87 L311.49 354.77 L313.5 355.74 L315.51 356.81 L317.52 357.97 L319.54 359.22 L321.55 360.59 L323.56 362.07 L325.57 363.66 L327.59 365.38 L329.6 367.22 L331.61 369.18 L333.62 371.28 L335.63 373.52 L337.65 375.88 L339.66 378.37 L341.67 380.99 L343.68 383.73 L345.7 386.58 L347.71 389.53 L349.72 392.58 L351.73 395.71 L353.75 398.9 L355.76 402.14 L357.77 405.41 L359.78 408.7 L361.8 411.98 L363.81 415.25 L365.82 418.47 L367.83 421.65 L369.84 424.75 L371.86 427.77 L373.87 430.69 L375.88 433.5 L377.89 436.2 L379.91 438.78 L381.92 441.23 L383.93 443.56 L385.94 445.74 L387.96 447.8 L389.97 449.73 L391.98 451.53 L393.99 453.2 L396.01 454.76 L398.02 456.2 L400.03 457.53 L402.04 458.76 L404.06 459.89 L406.07 460.92 L408.08 461.87 L410.09 462.74 L412.1 463.53 L414.12 464.26 L416.13 464.92 L418.14 465.52 L420.15 466.07 L422.17 466.56 L424.18 467.02 L426.19 467.42 L428.2 467.8 L430.22 468.13 L432.23 468.44 L434.24 468.71 L436.25 468.96 L438.27 469.19 L440.28 469.39 L442.29 469.58 L444.3 469.75 L446.31 469.9 L448.33 470.03 L450.34 470.15 L452.35 470.27 L454.36 470.37 L456.38 470.46 L458.39 470.54 L460.4 470.61 L462.41 470.68 L464.43 470.74 L466.44 470.79 L468.45 470.84 L470.46 470.88 L472.48 470.92 L474.49 470.96 L476.5 470.99" fill="none" stroke="#d0001c" stroke-width="1.35" stroke-linejoin="round"/>
<rect x="348" y="347.1" width="6.4" height="6.4" fill="#0030c0"/>
<rect x="363" y="342.9" width="6.4" height="6.4" fill="#0030c0"/>
<rect x="379.4" y="367.9" width="6.4" height="6.4" fill="#0030c0"/>
<rect x="394.1" y="377.6" width="6.4" height="6.4" fill="#0030c0"/>
<rect x="410.6" y="423.3" width="6.4" height="6.4" fill="#0030c0"/>
<rect x="425.5" y="443.1" width="6.4" height="6.4" fill="#0030c0"/>
<rect x="442.2" y="455.7" width="6.4" height="6.4" fill="#0030c0"/>
<rect x="459.5" y="459.2" width="6.4" height="6.4" fill="#0030c0"/>
<circle cx="319" cy="360.2" r="3.3" fill="#d0001c"/>
<circle cx="334.4" cy="368.1" r="3.3" fill="#d0001c"/>
<circle cx="351.2" cy="397.2" r="3.3" fill="#d0001c"/>
<circle cx="365.2" cy="418.1" r="3.3" fill="#d0001c"/>
<circle cx="382.7" cy="442.1" r="3.3" fill="#d0001c"/>
<circle cx="397.3" cy="454.6" r="3.3" fill="#d0001c"/>
<circle cx="413.5" cy="463.1" r="3.3" fill="#d0001c"/>
<circle cx="428.7" cy="467.1" r="3.3" fill="#d0001c"/>
<circle cx="445.4" cy="471.3" r="3.3" fill="#d0001c"/>
<circle cx="462.7" cy="472.7" r="3.3" fill="#d0001c"/>
<line x1="297.4" y1="300.8" x2="297.4" y2="482.15" stroke="#000" stroke-width="1.5" stroke-linecap="butt"/>
<line x1="296.75" y1="481.5" x2="476.6" y2="481.5" stroke="#000" stroke-width="1.5" stroke-linecap="butt"/>
<line x1="297.4" y1="481.5" x2="297.4" y2="488.5" stroke="#000" stroke-width="1.2" stroke-linecap="butt"/>
<line x1="289.2" y1="481.5" x2="297.4" y2="481.5" stroke="#000" stroke-width="1.2" stroke-linecap="butt"/>
<line x1="292.3" y1="474.96" x2="297.4" y2="474.96" stroke="#000" stroke-width="1.2" stroke-linecap="butt"/>
<line x1="292.3" y1="468.43" x2="297.4" y2="468.43" stroke="#000" stroke-width="1.2" stroke-linecap="butt"/>
<line x1="292.3" y1="461.89" x2="297.4" y2="461.89" stroke="#000" stroke-width="1.2" stroke-linecap="butt"/>
<line x1="292.3" y1="455.36" x2="297.4" y2="455.36" stroke="#000" stroke-width="1.2" stroke-linecap="butt"/>
<line x1="289.2" y1="448.82" x2="297.4" y2="448.82" stroke="#000" stroke-width="1.2" stroke-linecap="butt"/>
<line x1="292.3" y1="442.28" x2="297.4" y2="442.28" stroke="#000" stroke-width="1.2" stroke-linecap="butt"/>
<line x1="292.3" y1="435.75" x2="297.4" y2="435.75" stroke="#000" stroke-width="1.2" stroke-linecap="butt"/>
<line x1="292.3" y1="429.21" x2="297.4" y2="429.21" stroke="#000" stroke-width="1.2" stroke-linecap="butt"/>
<line x1="292.3" y1="422.68" x2="297.4" y2="422.68" stroke="#000" stroke-width="1.2" stroke-linecap="butt"/>
<line x1="289.2" y1="416.14" x2="297.4" y2="416.14" stroke="#000" stroke-width="1.2" stroke-linecap="butt"/>
<line x1="292.3" y1="409.6" x2="297.4" y2="409.6" stroke="#000" stroke-width="1.2" stroke-linecap="butt"/>
<line x1="292.3" y1="403.07" x2="297.4" y2="403.07" stroke="#000" stroke-width="1.2" stroke-linecap="butt"/>
<line x1="292.3" y1="396.53" x2="297.4" y2="396.53" stroke="#000" stroke-width="1.2" stroke-linecap="butt"/>
<line x1="292.3" y1="390" x2="297.4" y2="390" stroke="#000" stroke-width="1.2" stroke-linecap="butt"/>
<line x1="289.2" y1="383.46" x2="297.4" y2="383.46" stroke="#000" stroke-width="1.2" stroke-linecap="butt"/>
<line x1="292.3" y1="376.92" x2="297.4" y2="376.92" stroke="#000" stroke-width="1.2" stroke-linecap="butt"/>
<line x1="292.3" y1="370.39" x2="297.4" y2="370.39" stroke="#000" stroke-width="1.2" stroke-linecap="butt"/>
<line x1="292.3" y1="363.85" x2="297.4" y2="363.85" stroke="#000" stroke-width="1.2" stroke-linecap="butt"/>
<line x1="292.3" y1="357.32" x2="297.4" y2="357.32" stroke="#000" stroke-width="1.2" stroke-linecap="butt"/>
<line x1="289.2" y1="350.78" x2="297.4" y2="350.78" stroke="#000" stroke-width="1.2" stroke-linecap="butt"/>
<line x1="292.3" y1="344.24" x2="297.4" y2="344.24" stroke="#000" stroke-width="1.2" stroke-linecap="butt"/>
<line x1="292.3" y1="337.71" x2="297.4" y2="337.71" stroke="#000" stroke-width="1.2" stroke-linecap="butt"/>
<line x1="292.3" y1="331.17" x2="297.4" y2="331.17" stroke="#000" stroke-width="1.2" stroke-linecap="butt"/>
<line x1="292.3" y1="324.64" x2="297.4" y2="324.64" stroke="#000" stroke-width="1.2" stroke-linecap="butt"/>
<line x1="289.2" y1="318.1" x2="297.4" y2="318.1" stroke="#000" stroke-width="1.2" stroke-linecap="butt"/>
<line x1="292.3" y1="311.56" x2="297.4" y2="311.56" stroke="#000" stroke-width="1.2" stroke-linecap="butt"/>
<line x1="292.3" y1="305.03" x2="297.4" y2="305.03" stroke="#000" stroke-width="1.2" stroke-linecap="butt"/>
<line x1="297.35" y1="481.5" x2="297.35" y2="485.9" stroke="#000" stroke-width="1.2" stroke-linecap="butt"/>
<line x1="302.88" y1="481.5" x2="302.88" y2="485.9" stroke="#000" stroke-width="1.2" stroke-linecap="butt"/>
<line x1="306.8" y1="481.5" x2="306.8" y2="485.9" stroke="#000" stroke-width="1.2" stroke-linecap="butt"/>
<line x1="309.85" y1="481.5" x2="309.85" y2="485.9" stroke="#000" stroke-width="1.2" stroke-linecap="butt"/>
<line x1="312.33" y1="481.5" x2="312.33" y2="485.9" stroke="#000" stroke-width="1.2" stroke-linecap="butt"/>
<line x1="314.44" y1="481.5" x2="314.44" y2="485.9" stroke="#000" stroke-width="1.2" stroke-linecap="butt"/>
<line x1="316.26" y1="481.5" x2="316.26" y2="485.9" stroke="#000" stroke-width="1.2" stroke-linecap="butt"/>
<line x1="317.86" y1="481.5" x2="317.86" y2="485.9" stroke="#000" stroke-width="1.2" stroke-linecap="butt"/>
<line x1="319.3" y1="481.5" x2="319.3" y2="488.5" stroke="#000" stroke-width="1.2" stroke-linecap="butt"/>
<line x1="328.75" y1="481.5" x2="328.75" y2="485.9" stroke="#000" stroke-width="1.2" stroke-linecap="butt"/>
<line x1="334.28" y1="481.5" x2="334.28" y2="485.9" stroke="#000" stroke-width="1.2" stroke-linecap="butt"/>
<line x1="338.2" y1="481.5" x2="338.2" y2="485.9" stroke="#000" stroke-width="1.2" stroke-linecap="butt"/>
<line x1="341.25" y1="481.5" x2="341.25" y2="485.9" stroke="#000" stroke-width="1.2" stroke-linecap="butt"/>
<line x1="343.73" y1="481.5" x2="343.73" y2="485.9" stroke="#000" stroke-width="1.2" stroke-linecap="butt"/>
<line x1="345.84" y1="481.5" x2="345.84" y2="485.9" stroke="#000" stroke-width="1.2" stroke-linecap="butt"/>
<line x1="347.66" y1="481.5" x2="347.66" y2="485.9" stroke="#000" stroke-width="1.2" stroke-linecap="butt"/>
<line x1="349.26" y1="481.5" x2="349.26" y2="485.9" stroke="#000" stroke-width="1.2" stroke-linecap="butt"/>
<line x1="350.7" y1="481.5" x2="350.7" y2="488.5" stroke="#000" stroke-width="1.2" stroke-linecap="butt"/>
<line x1="360.15" y1="481.5" x2="360.15" y2="485.9" stroke="#000" stroke-width="1.2" stroke-linecap="butt"/>
<line x1="365.68" y1="481.5" x2="365.68" y2="485.9" stroke="#000" stroke-width="1.2" stroke-linecap="butt"/>
<line x1="369.6" y1="481.5" x2="369.6" y2="485.9" stroke="#000" stroke-width="1.2" stroke-linecap="butt"/>
<line x1="372.65" y1="481.5" x2="372.65" y2="485.9" stroke="#000" stroke-width="1.2" stroke-linecap="butt"/>
<line x1="375.13" y1="481.5" x2="375.13" y2="485.9" stroke="#000" stroke-width="1.2" stroke-linecap="butt"/>
<line x1="377.24" y1="481.5" x2="377.24" y2="485.9" stroke="#000" stroke-width="1.2" stroke-linecap="butt"/>
<line x1="379.06" y1="481.5" x2="379.06" y2="485.9" stroke="#000" stroke-width="1.2" stroke-linecap="butt"/>
<line x1="380.66" y1="481.5" x2="380.66" y2="485.9" stroke="#000" stroke-width="1.2" stroke-linecap="butt"/>
<line x1="382.1" y1="481.5" x2="382.1" y2="488.5" stroke="#000" stroke-width="1.2" stroke-linecap="butt"/>
<line x1="391.55" y1="481.5" x2="391.55" y2="485.9" stroke="#000" stroke-width="1.2" stroke-linecap="butt"/>
<line x1="397.08" y1="481.5" x2="397.08" y2="485.9" stroke="#000" stroke-width="1.2" stroke-linecap="butt"/>
<line x1="401" y1="481.5" x2="401" y2="485.9" stroke="#000" stroke-width="1.2" stroke-linecap="butt"/>
<line x1="404.05" y1="481.5" x2="404.05" y2="485.9" stroke="#000" stroke-width="1.2" stroke-linecap="butt"/>
<line x1="406.53" y1="481.5" x2="406.53" y2="485.9" stroke="#000" stroke-width="1.2" stroke-linecap="butt"/>
<line x1="408.64" y1="481.5" x2="408.64" y2="485.9" stroke="#000" stroke-width="1.2" stroke-linecap="butt"/>
<line x1="410.46" y1="481.5" x2="410.46" y2="485.9" stroke="#000" stroke-width="1.2" stroke-linecap="butt"/>
<line x1="412.06" y1="481.5" x2="412.06" y2="485.9" stroke="#000" stroke-width="1.2" stroke-linecap="butt"/>
<line x1="413.5" y1="481.5" x2="413.5" y2="488.5" stroke="#000" stroke-width="1.2" stroke-linecap="butt"/>
<line x1="422.95" y1="481.5" x2="422.95" y2="485.9" stroke="#000" stroke-width="1.2" stroke-linecap="butt"/>
<line x1="428.48" y1="481.5" x2="428.48" y2="485.9" stroke="#000" stroke-width="1.2" stroke-linecap="butt"/>
<line x1="432.4" y1="481.5" x2="432.4" y2="485.9" stroke="#000" stroke-width="1.2" stroke-linecap="butt"/>
<line x1="435.45" y1="481.5" x2="435.45" y2="485.9" stroke="#000" stroke-width="1.2" stroke-linecap="butt"/>
<line x1="437.93" y1="481.5" x2="437.93" y2="485.9" stroke="#000" stroke-width="1.2" stroke-linecap="butt"/>
<line x1="440.04" y1="481.5" x2="440.04" y2="485.9" stroke="#000" stroke-width="1.2" stroke-linecap="butt"/>
<line x1="441.86" y1="481.5" x2="441.86" y2="485.9" stroke="#000" stroke-width="1.2" stroke-linecap="butt"/>
<line x1="443.46" y1="481.5" x2="443.46" y2="485.9" stroke="#000" stroke-width="1.2" stroke-linecap="butt"/>
<line x1="444.9" y1="481.5" x2="444.9" y2="488.5" stroke="#000" stroke-width="1.2" stroke-linecap="butt"/>
<line x1="454.35" y1="481.5" x2="454.35" y2="485.9" stroke="#000" stroke-width="1.2" stroke-linecap="butt"/>
<line x1="459.88" y1="481.5" x2="459.88" y2="485.9" stroke="#000" stroke-width="1.2" stroke-linecap="butt"/>
<line x1="463.8" y1="481.5" x2="463.8" y2="485.9" stroke="#000" stroke-width="1.2" stroke-linecap="butt"/>
<line x1="466.85" y1="481.5" x2="466.85" y2="485.9" stroke="#000" stroke-width="1.2" stroke-linecap="butt"/>
<line x1="469.33" y1="481.5" x2="469.33" y2="485.9" stroke="#000" stroke-width="1.2" stroke-linecap="butt"/>
<line x1="471.44" y1="481.5" x2="471.44" y2="485.9" stroke="#000" stroke-width="1.2" stroke-linecap="butt"/>
<line x1="473.26" y1="481.5" x2="473.26" y2="485.9" stroke="#000" stroke-width="1.2" stroke-linecap="butt"/>
<line x1="474.86" y1="481.5" x2="474.86" y2="485.9" stroke="#000" stroke-width="1.2" stroke-linecap="butt"/>
<line x1="476.3" y1="481.5" x2="476.3" y2="488.5" stroke="#000" stroke-width="1.2" stroke-linecap="butt"/>
<text x="282.71" y="484.1" font-size="9.3" fill="#0a0a0a" stroke="#0a0a0a" stroke-width="0.28" textLength="5.02" lengthAdjust="spacingAndGlyphs">0</text>
<text x="282.84" y="451.42" font-size="9.3" fill="#0a0a0a" stroke="#0a0a0a" stroke-width="0.28" textLength="5.02" lengthAdjust="spacingAndGlyphs">2</text>
<text x="282.66" y="418.74" font-size="9.3" fill="#0a0a0a" stroke="#0a0a0a" stroke-width="0.28" textLength="5.02" lengthAdjust="spacingAndGlyphs">4</text>
<text x="282.75" y="386.06" font-size="9.3" fill="#0a0a0a" stroke="#0a0a0a" stroke-width="0.28" textLength="5.02" lengthAdjust="spacingAndGlyphs">6</text>
<text x="282.75" y="353.38" font-size="9.3" fill="#0a0a0a" stroke="#0a0a0a" stroke-width="0.28" textLength="5.02" lengthAdjust="spacingAndGlyphs">8</text>
<text x="277.7" y="320.7" font-size="9.3" fill="#0a0a0a" stroke="#0a0a0a" stroke-width="0.28" textLength="10.03" lengthAdjust="spacingAndGlyphs">10</text>
<text x="312.12" y="499.9" font-size="8.14" fill="#0a0a0a" stroke="#0a0a0a" stroke-width="0.28" textLength="9.06" lengthAdjust="spacingAndGlyphs">10</text>
<text x="321.56" y="497.23" font-size="4.9" fill="#0a0a0a" stroke="#0a0a0a" stroke-width="0.2" textLength="4.14" lengthAdjust="spacingAndGlyphs">-2</text>
<text x="343.51" y="499.9" font-size="8.14" fill="#0a0a0a" stroke="#0a0a0a" stroke-width="0.28" textLength="9.06" lengthAdjust="spacingAndGlyphs">10</text>
<text x="352.95" y="497.23" font-size="4.9" fill="#0a0a0a" stroke="#0a0a0a" stroke-width="0.2" textLength="4.14" lengthAdjust="spacingAndGlyphs">-1</text>
<text x="375.65" y="499.9" font-size="8.14" fill="#0a0a0a" stroke="#0a0a0a" stroke-width="0.28" textLength="9.06" lengthAdjust="spacingAndGlyphs">10</text>
<text x="385.12" y="497.23" font-size="4.9" fill="#0a0a0a" stroke="#0a0a0a" stroke-width="0.2" textLength="2.59" lengthAdjust="spacingAndGlyphs">0</text>
<text x="407.16" y="499.9" font-size="8.14" fill="#0a0a0a" stroke="#0a0a0a" stroke-width="0.28" textLength="9.06" lengthAdjust="spacingAndGlyphs">10</text>
<text x="416.46" y="497.23" font-size="4.9" fill="#0a0a0a" stroke="#0a0a0a" stroke-width="0.2" textLength="2.59" lengthAdjust="spacingAndGlyphs">1</text>
<text x="438.51" y="499.9" font-size="8.14" fill="#0a0a0a" stroke="#0a0a0a" stroke-width="0.28" textLength="9.06" lengthAdjust="spacingAndGlyphs">10</text>
<text x="447.93" y="497.23" font-size="4.9" fill="#0a0a0a" stroke="#0a0a0a" stroke-width="0.2" textLength="2.59" lengthAdjust="spacingAndGlyphs">2</text>
<text x="469.86" y="499.9" font-size="8.14" fill="#0a0a0a" stroke="#0a0a0a" stroke-width="0.28" textLength="9.06" lengthAdjust="spacingAndGlyphs">10</text>
<text x="479.33" y="497.23" font-size="4.9" fill="#0a0a0a" stroke="#0a0a0a" stroke-width="0.2" textLength="2.59" lengthAdjust="spacingAndGlyphs">3</text>
<text transform="translate(269.2,432.05) rotate(-90)" x="0" y="0" font-size="9.6" fill="#0a0a0a" stroke="#0a0a0a" stroke-width="0.28" textLength="62.65" lengthAdjust="spacingAndGlyphs">R-time (s × 1000)</text>
<text x="360.48" y="517.4" font-size="9.2" fill="#0a0a0a" stroke="#0a0a0a" stroke-width="0.28" textLength="34.43" lengthAdjust="spacingAndGlyphs">biAb (nM)</text>
<text x="255.13" y="291.5" font-size="11.6" font-weight="bold" fill="#000" stroke="#000" stroke-width="0.28" textLength="9.63" lengthAdjust="spacingAndGlyphs">D</text>
<rect x="0" y="0" width="520" height="1.1" fill="#000"/>
<rect x="0" y="0" width="1.3" height="526" fill="#000"/>
<rect x="518.5" y="0" width="1.5" height="526" fill="#000"/>
<rect x="0" y="524.3" width="520" height="1.7" fill="#000"/>
</svg>
</body></html>
